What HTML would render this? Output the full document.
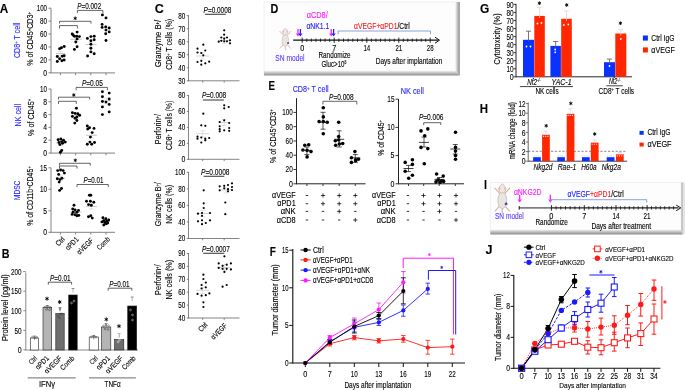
<!DOCTYPE html>
<html><head><meta charset="utf-8"><style>
html,body{margin:0;padding:0;background:#fff;width:685px;height:390px;overflow:hidden}
svg{display:block;font-family:"Liberation Sans",sans-serif;will-change:transform}
</style></head><body>
<svg width="685" height="390" viewBox="0 0 685 390">
<text x="-0.30" y="12.65" font-size="13.53" stroke="#000" stroke-width="0.12" textLength="8.50" lengthAdjust="spacingAndGlyphs" font-weight="bold">A</text>
<line x1="51.00" y1="8.20" x2="51.00" y2="72.90" stroke="#828282" stroke-width="1" />
<line x1="50.50" y1="72.90" x2="115.00" y2="72.90" stroke="#828282" stroke-width="1" />
<line x1="48.50" y1="8.20" x2="51.00" y2="8.20" stroke="#828282" stroke-width="1" />
<text x="36.80" y="11.23" font-size="8.80" stroke="#000" stroke-width="0.12" textLength="10.20" lengthAdjust="spacingAndGlyphs">100</text>
<line x1="48.50" y1="21.12" x2="51.00" y2="21.12" stroke="#828282" stroke-width="1" />
<text x="40.00" y="24.15" font-size="8.80" stroke="#000" stroke-width="0.12" textLength="7.00" lengthAdjust="spacingAndGlyphs">80</text>
<line x1="48.50" y1="34.04" x2="51.00" y2="34.04" stroke="#828282" stroke-width="1" />
<text x="40.00" y="37.07" font-size="8.80" stroke="#000" stroke-width="0.12" textLength="7.00" lengthAdjust="spacingAndGlyphs">60</text>
<line x1="48.50" y1="46.96" x2="51.00" y2="46.96" stroke="#828282" stroke-width="1" />
<text x="40.00" y="49.99" font-size="8.80" stroke="#000" stroke-width="0.12" textLength="7.00" lengthAdjust="spacingAndGlyphs">40</text>
<line x1="48.50" y1="59.88" x2="51.00" y2="59.88" stroke="#828282" stroke-width="1" />
<text x="40.00" y="62.91" font-size="8.80" stroke="#000" stroke-width="0.12" textLength="7.00" lengthAdjust="spacingAndGlyphs">20</text>
<line x1="48.50" y1="72.80" x2="51.00" y2="72.80" stroke="#828282" stroke-width="1" />
<text x="43.20" y="75.83" font-size="8.80" stroke="#000" stroke-width="0.12" textLength="3.80" lengthAdjust="spacingAndGlyphs">0</text>
<line x1="60.40" y1="72.90" x2="60.40" y2="75.20" stroke="#828282" stroke-width="1" />
<line x1="75.60" y1="72.90" x2="75.60" y2="75.20" stroke="#828282" stroke-width="1" />
<line x1="90.80" y1="72.90" x2="90.80" y2="75.20" stroke="#828282" stroke-width="1" />
<line x1="106.00" y1="72.90" x2="106.00" y2="75.20" stroke="#828282" stroke-width="1" />
<text x="20.23" y="58.00" font-size="8.80" fill="#2828ff" stroke="#2828ff" stroke-width="0.12" textLength="35.30" lengthAdjust="spacingAndGlyphs" transform="rotate(-90 20.23 58.00)">CD8<tspan font-size="5" dy="-2.5">+</tspan><tspan dy="2.5"> T cell</tspan></text>
<text x="33.13" y="65.80" font-size="8.80" stroke="#000" stroke-width="0.12" textLength="53.70" lengthAdjust="spacingAndGlyphs" transform="rotate(-90 33.13 65.80)">% of CD45<tspan font-size="5" dy="-2.5">+</tspan><tspan dy="2.5">CD3</tspan><tspan font-size="5" dy="-2.5">+</tspan></text>
<line x1="56.00" y1="53.50" x2="65.00" y2="53.50" stroke="#b8b8b8" stroke-width="0.8" />
<line x1="58.00" y1="51.50" x2="63.00" y2="51.50" stroke="#cfcfcf" stroke-width="0.6" />
<line x1="58.00" y1="55.50" x2="63.00" y2="55.50" stroke="#cfcfcf" stroke-width="0.6" />
<line x1="60.50" y1="51.50" x2="60.50" y2="55.50" stroke="#cfcfcf" stroke-width="0.6" />
<line x1="70.20" y1="39.30" x2="81.80" y2="39.30" stroke="#b8b8b8" stroke-width="0.8" />
<line x1="73.50" y1="37.00" x2="78.50" y2="37.00" stroke="#cfcfcf" stroke-width="0.6" />
<line x1="73.50" y1="41.60" x2="78.50" y2="41.60" stroke="#cfcfcf" stroke-width="0.6" />
<line x1="76.00" y1="37.00" x2="76.00" y2="41.60" stroke="#cfcfcf" stroke-width="0.6" />
<line x1="85.40" y1="44.60" x2="96.60" y2="44.60" stroke="#b8b8b8" stroke-width="0.8" />
<line x1="88.50" y1="42.20" x2="93.50" y2="42.20" stroke="#cfcfcf" stroke-width="0.6" />
<line x1="88.50" y1="47.30" x2="93.50" y2="47.30" stroke="#cfcfcf" stroke-width="0.6" />
<line x1="91.00" y1="42.20" x2="91.00" y2="47.30" stroke="#cfcfcf" stroke-width="0.6" />
<line x1="101.80" y1="28.00" x2="110.80" y2="28.00" stroke="#b8b8b8" stroke-width="0.8" />
<line x1="103.80" y1="26.00" x2="108.80" y2="26.00" stroke="#cfcfcf" stroke-width="0.6" />
<line x1="103.80" y1="30.00" x2="108.80" y2="30.00" stroke="#cfcfcf" stroke-width="0.6" />
<line x1="106.30" y1="26.00" x2="106.30" y2="30.00" stroke="#cfcfcf" stroke-width="0.6" />
<circle cx="59.60" cy="48.80" r="1.45" fill="#000" stroke="none" stroke-width="1" />
<circle cx="61.50" cy="47.70" r="1.45" fill="#000" stroke="none" stroke-width="1" />
<circle cx="64.20" cy="46.50" r="1.45" fill="#000" stroke="none" stroke-width="1" />
<circle cx="57.30" cy="56.50" r="1.45" fill="#000" stroke="none" stroke-width="1" />
<circle cx="62.30" cy="56.20" r="1.45" fill="#000" stroke="none" stroke-width="1" />
<circle cx="64.20" cy="55.80" r="1.45" fill="#000" stroke="none" stroke-width="1" />
<circle cx="59.60" cy="58.80" r="1.45" fill="#000" stroke="none" stroke-width="1" />
<circle cx="57.30" cy="61.50" r="1.45" fill="#000" stroke="none" stroke-width="1" />
<circle cx="61.90" cy="60.80" r="1.45" fill="#000" stroke="none" stroke-width="1" />
<circle cx="64.20" cy="60.00" r="1.45" fill="#000" stroke="none" stroke-width="1" />
<circle cx="77.10" cy="32.10" r="1.45" fill="#000" stroke="none" stroke-width="1" />
<circle cx="72.20" cy="33.90" r="1.45" fill="#000" stroke="none" stroke-width="1" />
<circle cx="74.40" cy="36.20" r="1.45" fill="#000" stroke="none" stroke-width="1" />
<circle cx="76.70" cy="36.20" r="1.45" fill="#000" stroke="none" stroke-width="1" />
<circle cx="79.40" cy="36.60" r="1.45" fill="#000" stroke="none" stroke-width="1" />
<circle cx="77.10" cy="38.90" r="1.45" fill="#000" stroke="none" stroke-width="1" />
<circle cx="75.80" cy="42.00" r="1.45" fill="#000" stroke="none" stroke-width="1" />
<circle cx="77.10" cy="46.80" r="1.45" fill="#000" stroke="none" stroke-width="1" />
<circle cx="74.40" cy="49.40" r="1.45" fill="#000" stroke="none" stroke-width="1" />
<circle cx="73.00" cy="35.00" r="1.45" fill="#000" stroke="none" stroke-width="1" />
<circle cx="87.40" cy="38.40" r="1.45" fill="#000" stroke="none" stroke-width="1" />
<circle cx="90.90" cy="36.60" r="1.45" fill="#000" stroke="none" stroke-width="1" />
<circle cx="94.20" cy="36.20" r="1.45" fill="#000" stroke="none" stroke-width="1" />
<circle cx="94.20" cy="39.70" r="1.45" fill="#000" stroke="none" stroke-width="1" />
<circle cx="90.90" cy="40.80" r="1.45" fill="#000" stroke="none" stroke-width="1" />
<circle cx="90.90" cy="44.20" r="1.45" fill="#000" stroke="none" stroke-width="1" />
<circle cx="90.90" cy="48.30" r="1.45" fill="#000" stroke="none" stroke-width="1" />
<circle cx="90.90" cy="51.90" r="1.45" fill="#000" stroke="none" stroke-width="1" />
<circle cx="94.20" cy="53.70" r="1.45" fill="#000" stroke="none" stroke-width="1" />
<circle cx="87.60" cy="56.00" r="1.45" fill="#000" stroke="none" stroke-width="1" />
<circle cx="102.40" cy="14.90" r="1.45" fill="#000" stroke="none" stroke-width="1" />
<circle cx="106.00" cy="17.90" r="1.45" fill="#000" stroke="none" stroke-width="1" />
<circle cx="102.10" cy="24.40" r="1.45" fill="#000" stroke="none" stroke-width="1" />
<circle cx="102.10" cy="27.40" r="1.45" fill="#000" stroke="none" stroke-width="1" />
<circle cx="105.70" cy="26.90" r="1.45" fill="#000" stroke="none" stroke-width="1" />
<circle cx="109.20" cy="28.00" r="1.45" fill="#000" stroke="none" stroke-width="1" />
<circle cx="106.00" cy="30.10" r="1.45" fill="#000" stroke="none" stroke-width="1" />
<circle cx="109.20" cy="31.90" r="1.45" fill="#000" stroke="none" stroke-width="1" />
<circle cx="105.70" cy="33.70" r="1.45" fill="#000" stroke="none" stroke-width="1" />
<circle cx="106.00" cy="40.50" r="1.45" fill="#000" stroke="none" stroke-width="1" />
<path d="M59.50 23.60 L59.50 21.30 L91.00 21.30 L91.00 23.60" stroke="#333" stroke-width="0.75" fill="none" />
<path d="M59.50 28.50 L59.50 25.60 L77.40 25.60 L77.40 28.50" stroke="#333" stroke-width="0.75" fill="none" />
<path d="M75.20 16.55 L75.20 20.05 M76.72 17.43 L73.68 19.18 M76.72 19.18 L73.68 17.43 " stroke="#000" stroke-width="0.9" fill="none" />
<path d="M77.40 13.20 L77.40 10.40 L102.90 10.40 L102.90 13.20" stroke="#333" stroke-width="0.75" fill="none" />
<text x="77.30" y="8.74" font-size="8.25" stroke="#000" stroke-width="0.12" textLength="23.90" lengthAdjust="spacingAndGlyphs"><tspan font-style="italic">P</tspan>=0.002</text>
<line x1="51.00" y1="89.00" x2="51.00" y2="153.10" stroke="#828282" stroke-width="1" />
<line x1="50.50" y1="153.10" x2="115.00" y2="153.10" stroke="#828282" stroke-width="1" />
<line x1="48.50" y1="89.00" x2="51.00" y2="89.00" stroke="#828282" stroke-width="1" />
<text x="40.00" y="92.03" font-size="8.80" stroke="#000" stroke-width="0.12" textLength="7.00" lengthAdjust="spacingAndGlyphs">10</text>
<line x1="48.50" y1="101.80" x2="51.00" y2="101.80" stroke="#828282" stroke-width="1" />
<text x="43.20" y="104.83" font-size="8.80" stroke="#000" stroke-width="0.12" textLength="3.80" lengthAdjust="spacingAndGlyphs">8</text>
<line x1="48.50" y1="114.60" x2="51.00" y2="114.60" stroke="#828282" stroke-width="1" />
<text x="43.20" y="117.63" font-size="8.80" stroke="#000" stroke-width="0.12" textLength="3.80" lengthAdjust="spacingAndGlyphs">6</text>
<line x1="48.50" y1="127.40" x2="51.00" y2="127.40" stroke="#828282" stroke-width="1" />
<text x="43.20" y="130.43" font-size="8.80" stroke="#000" stroke-width="0.12" textLength="3.80" lengthAdjust="spacingAndGlyphs">4</text>
<line x1="48.50" y1="140.20" x2="51.00" y2="140.20" stroke="#828282" stroke-width="1" />
<text x="43.20" y="143.23" font-size="8.80" stroke="#000" stroke-width="0.12" textLength="3.80" lengthAdjust="spacingAndGlyphs">2</text>
<line x1="48.50" y1="153.00" x2="51.00" y2="153.00" stroke="#828282" stroke-width="1" />
<text x="43.20" y="156.03" font-size="8.80" stroke="#000" stroke-width="0.12" textLength="3.80" lengthAdjust="spacingAndGlyphs">0</text>
<line x1="60.40" y1="153.10" x2="60.40" y2="155.40" stroke="#828282" stroke-width="1" />
<line x1="75.60" y1="153.10" x2="75.60" y2="155.40" stroke="#828282" stroke-width="1" />
<line x1="90.80" y1="153.10" x2="90.80" y2="155.40" stroke="#828282" stroke-width="1" />
<line x1="106.00" y1="153.10" x2="106.00" y2="155.40" stroke="#828282" stroke-width="1" />
<text x="20.63" y="126.40" font-size="8.80" fill="#2828ff" stroke="#2828ff" stroke-width="0.12" textLength="22.40" lengthAdjust="spacingAndGlyphs" transform="rotate(-90 20.63 126.40)">NK cell</text>
<text x="33.63" y="136.00" font-size="8.80" stroke="#000" stroke-width="0.12" textLength="37.20" lengthAdjust="spacingAndGlyphs" transform="rotate(-90 33.63 136.00)">% of CD45<tspan font-size="5" dy="-2.5">+</tspan></text>
<line x1="56.00" y1="143.00" x2="65.00" y2="143.00" stroke="#b8b8b8" stroke-width="0.8" />
<line x1="58.00" y1="140.50" x2="63.00" y2="140.50" stroke="#cfcfcf" stroke-width="0.6" />
<line x1="58.00" y1="145.50" x2="63.00" y2="145.50" stroke="#cfcfcf" stroke-width="0.6" />
<line x1="60.50" y1="140.50" x2="60.50" y2="145.50" stroke="#cfcfcf" stroke-width="0.6" />
<line x1="70.50" y1="116.00" x2="81.50" y2="116.00" stroke="#b8b8b8" stroke-width="0.8" />
<line x1="73.50" y1="113.50" x2="78.50" y2="113.50" stroke="#cfcfcf" stroke-width="0.6" />
<line x1="73.50" y1="118.50" x2="78.50" y2="118.50" stroke="#cfcfcf" stroke-width="0.6" />
<line x1="76.00" y1="113.50" x2="76.00" y2="118.50" stroke="#cfcfcf" stroke-width="0.6" />
<line x1="85.80" y1="135.30" x2="96.80" y2="135.30" stroke="#b8b8b8" stroke-width="0.8" />
<line x1="88.80" y1="132.80" x2="93.80" y2="132.80" stroke="#cfcfcf" stroke-width="0.6" />
<line x1="88.80" y1="137.80" x2="93.80" y2="137.80" stroke="#cfcfcf" stroke-width="0.6" />
<line x1="91.30" y1="132.80" x2="91.30" y2="137.80" stroke="#cfcfcf" stroke-width="0.6" />
<line x1="101.80" y1="100.80" x2="110.80" y2="100.80" stroke="#b8b8b8" stroke-width="0.8" />
<line x1="103.80" y1="98.30" x2="108.80" y2="98.30" stroke="#cfcfcf" stroke-width="0.6" />
<line x1="103.80" y1="103.30" x2="108.80" y2="103.30" stroke="#cfcfcf" stroke-width="0.6" />
<line x1="106.30" y1="98.30" x2="106.30" y2="103.30" stroke="#cfcfcf" stroke-width="0.6" />
<circle cx="58.10" cy="139.80" r="1.45" fill="#000" stroke="none" stroke-width="1" />
<circle cx="60.80" cy="138.90" r="1.45" fill="#000" stroke="none" stroke-width="1" />
<circle cx="63.50" cy="140.30" r="1.45" fill="#000" stroke="none" stroke-width="1" />
<circle cx="65.30" cy="142.10" r="1.45" fill="#000" stroke="none" stroke-width="1" />
<circle cx="59.00" cy="142.50" r="1.45" fill="#000" stroke="none" stroke-width="1" />
<circle cx="62.60" cy="143.30" r="1.45" fill="#000" stroke="none" stroke-width="1" />
<circle cx="59.90" cy="144.60" r="1.45" fill="#000" stroke="none" stroke-width="1" />
<circle cx="61.70" cy="141.60" r="1.45" fill="#000" stroke="none" stroke-width="1" />
<circle cx="61.70" cy="150.50" r="1.45" fill="#000" stroke="none" stroke-width="1" />
<circle cx="60.40" cy="152.30" r="1.45" fill="#000" stroke="none" stroke-width="1" />
<circle cx="76.40" cy="108.30" r="1.45" fill="#000" stroke="none" stroke-width="1" />
<circle cx="72.40" cy="112.80" r="1.45" fill="#000" stroke="none" stroke-width="1" />
<circle cx="75.10" cy="113.40" r="1.45" fill="#000" stroke="none" stroke-width="1" />
<circle cx="77.80" cy="113.70" r="1.45" fill="#000" stroke="none" stroke-width="1" />
<circle cx="79.60" cy="115.20" r="1.45" fill="#000" stroke="none" stroke-width="1" />
<circle cx="72.40" cy="116.40" r="1.45" fill="#000" stroke="none" stroke-width="1" />
<circle cx="76.90" cy="117.00" r="1.45" fill="#000" stroke="none" stroke-width="1" />
<circle cx="75.10" cy="118.20" r="1.45" fill="#000" stroke="none" stroke-width="1" />
<circle cx="76.90" cy="120.50" r="1.45" fill="#000" stroke="none" stroke-width="1" />
<circle cx="74.80" cy="123.10" r="1.45" fill="#000" stroke="none" stroke-width="1" />
<circle cx="87.30" cy="125.90" r="1.45" fill="#000" stroke="none" stroke-width="1" />
<circle cx="89.50" cy="127.70" r="1.45" fill="#000" stroke="none" stroke-width="1" />
<circle cx="87.70" cy="129.00" r="1.45" fill="#000" stroke="none" stroke-width="1" />
<circle cx="94.00" cy="128.40" r="1.45" fill="#000" stroke="none" stroke-width="1" />
<circle cx="92.20" cy="132.60" r="1.45" fill="#000" stroke="none" stroke-width="1" />
<circle cx="90.40" cy="137.10" r="1.45" fill="#000" stroke="none" stroke-width="1" />
<circle cx="89.90" cy="142.10" r="1.45" fill="#000" stroke="none" stroke-width="1" />
<circle cx="87.30" cy="144.20" r="1.45" fill="#000" stroke="none" stroke-width="1" />
<circle cx="91.70" cy="144.20" r="1.45" fill="#000" stroke="none" stroke-width="1" />
<circle cx="94.50" cy="142.50" r="1.45" fill="#000" stroke="none" stroke-width="1" />
<circle cx="102.40" cy="91.80" r="1.45" fill="#000" stroke="none" stroke-width="1" />
<circle cx="109.20" cy="93.10" r="1.45" fill="#000" stroke="none" stroke-width="1" />
<circle cx="102.40" cy="96.70" r="1.45" fill="#000" stroke="none" stroke-width="1" />
<circle cx="109.20" cy="99.00" r="1.45" fill="#000" stroke="none" stroke-width="1" />
<circle cx="102.40" cy="101.50" r="1.45" fill="#000" stroke="none" stroke-width="1" />
<circle cx="106.00" cy="102.10" r="1.45" fill="#000" stroke="none" stroke-width="1" />
<circle cx="109.20" cy="104.40" r="1.45" fill="#000" stroke="none" stroke-width="1" />
<circle cx="102.40" cy="106.90" r="1.45" fill="#000" stroke="none" stroke-width="1" />
<circle cx="109.20" cy="111.90" r="1.45" fill="#000" stroke="none" stroke-width="1" />
<circle cx="102.40" cy="114.60" r="1.45" fill="#000" stroke="none" stroke-width="1" />
<path d="M58.50 99.50 L58.50 97.20 L89.60 97.20 L89.60 99.50" stroke="#333" stroke-width="0.75" fill="none" />
<path d="M58.50 103.90 L58.50 101.30 L76.30 101.30 L76.30 103.90" stroke="#333" stroke-width="0.75" fill="none" />
<path d="M73.80 93.25 L73.80 96.75 M75.32 94.12 L72.28 95.88 M75.32 95.88 L72.28 94.12 " stroke="#000" stroke-width="0.9" fill="none" />
<path d="M76.10 90.20 L76.10 87.40 L107.40 87.40 L107.40 90.20" stroke="#333" stroke-width="0.75" fill="none" />
<text x="81.90" y="85.94" font-size="8.25" stroke="#000" stroke-width="0.12" textLength="21.00" lengthAdjust="spacingAndGlyphs"><tspan font-style="italic">P</tspan>=0.05</text>
<line x1="51.00" y1="167.80" x2="51.00" y2="232.30" stroke="#828282" stroke-width="1" />
<line x1="50.50" y1="232.30" x2="115.00" y2="232.30" stroke="#828282" stroke-width="1" />
<line x1="48.50" y1="167.80" x2="51.00" y2="167.80" stroke="#828282" stroke-width="1" />
<text x="40.00" y="170.83" font-size="8.80" stroke="#000" stroke-width="0.12" textLength="7.00" lengthAdjust="spacingAndGlyphs">15</text>
<line x1="48.50" y1="189.30" x2="51.00" y2="189.30" stroke="#828282" stroke-width="1" />
<text x="40.00" y="192.33" font-size="8.80" stroke="#000" stroke-width="0.12" textLength="7.00" lengthAdjust="spacingAndGlyphs">10</text>
<line x1="48.50" y1="210.80" x2="51.00" y2="210.80" stroke="#828282" stroke-width="1" />
<text x="43.20" y="213.83" font-size="8.80" stroke="#000" stroke-width="0.12" textLength="3.80" lengthAdjust="spacingAndGlyphs">5</text>
<line x1="48.50" y1="232.30" x2="51.00" y2="232.30" stroke="#828282" stroke-width="1" />
<text x="43.20" y="235.33" font-size="8.80" stroke="#000" stroke-width="0.12" textLength="3.80" lengthAdjust="spacingAndGlyphs">0</text>
<line x1="60.40" y1="232.30" x2="60.40" y2="234.60" stroke="#828282" stroke-width="1" />
<line x1="75.60" y1="232.30" x2="75.60" y2="234.60" stroke="#828282" stroke-width="1" />
<line x1="90.80" y1="232.30" x2="90.80" y2="234.60" stroke="#828282" stroke-width="1" />
<line x1="106.00" y1="232.30" x2="106.00" y2="234.60" stroke="#828282" stroke-width="1" />
<text x="20.33" y="200.00" font-size="8.80" fill="#2828ff" stroke="#2828ff" stroke-width="0.12" textLength="19.20" lengthAdjust="spacingAndGlyphs" transform="rotate(-90 20.33 200.00)">MDSC</text>
<text x="33.33" y="225.80" font-size="8.80" stroke="#000" stroke-width="0.12" textLength="59.50" lengthAdjust="spacingAndGlyphs" transform="rotate(-90 33.33 225.80)">% of CD11b<tspan font-size="5" dy="-2.5">+</tspan><tspan dy="2.5">CD45</tspan><tspan font-size="5" dy="-2.5">+</tspan></text>
<line x1="56.00" y1="178.30" x2="65.00" y2="178.30" stroke="#b8b8b8" stroke-width="0.8" />
<line x1="58.00" y1="175.80" x2="63.00" y2="175.80" stroke="#cfcfcf" stroke-width="0.6" />
<line x1="58.00" y1="180.80" x2="63.00" y2="180.80" stroke="#cfcfcf" stroke-width="0.6" />
<line x1="60.50" y1="175.80" x2="60.50" y2="180.80" stroke="#cfcfcf" stroke-width="0.6" />
<line x1="70.50" y1="212.00" x2="81.50" y2="212.00" stroke="#b8b8b8" stroke-width="0.8" />
<line x1="73.50" y1="209.50" x2="78.50" y2="209.50" stroke="#cfcfcf" stroke-width="0.6" />
<line x1="73.50" y1="214.50" x2="78.50" y2="214.50" stroke="#cfcfcf" stroke-width="0.6" />
<line x1="76.00" y1="209.50" x2="76.00" y2="214.50" stroke="#cfcfcf" stroke-width="0.6" />
<line x1="85.80" y1="206.50" x2="96.80" y2="206.50" stroke="#b8b8b8" stroke-width="0.8" />
<line x1="88.80" y1="204.00" x2="93.80" y2="204.00" stroke="#cfcfcf" stroke-width="0.6" />
<line x1="88.80" y1="209.00" x2="93.80" y2="209.00" stroke="#cfcfcf" stroke-width="0.6" />
<line x1="91.30" y1="204.00" x2="91.30" y2="209.00" stroke="#cfcfcf" stroke-width="0.6" />
<line x1="101.00" y1="221.50" x2="110.00" y2="221.50" stroke="#b8b8b8" stroke-width="0.8" />
<line x1="103.00" y1="219.00" x2="108.00" y2="219.00" stroke="#cfcfcf" stroke-width="0.6" />
<line x1="103.00" y1="224.00" x2="108.00" y2="224.00" stroke="#cfcfcf" stroke-width="0.6" />
<line x1="105.50" y1="219.00" x2="105.50" y2="224.00" stroke="#cfcfcf" stroke-width="0.6" />
<circle cx="57.70" cy="170.60" r="1.45" fill="#000" stroke="none" stroke-width="1" />
<circle cx="60.60" cy="170.00" r="1.45" fill="#000" stroke="none" stroke-width="1" />
<circle cx="63.10" cy="170.60" r="1.45" fill="#000" stroke="none" stroke-width="1" />
<circle cx="64.40" cy="173.10" r="1.45" fill="#000" stroke="none" stroke-width="1" />
<circle cx="58.70" cy="174.40" r="1.45" fill="#000" stroke="none" stroke-width="1" />
<circle cx="57.30" cy="178.80" r="1.45" fill="#000" stroke="none" stroke-width="1" />
<circle cx="60.00" cy="179.60" r="1.45" fill="#000" stroke="none" stroke-width="1" />
<circle cx="61.90" cy="178.30" r="1.45" fill="#000" stroke="none" stroke-width="1" />
<circle cx="59.20" cy="182.10" r="1.45" fill="#000" stroke="none" stroke-width="1" />
<circle cx="61.50" cy="188.50" r="1.45" fill="#000" stroke="none" stroke-width="1" />
<circle cx="59.60" cy="190.40" r="1.45" fill="#000" stroke="none" stroke-width="1" />
<circle cx="74.00" cy="205.20" r="1.45" fill="#000" stroke="none" stroke-width="1" />
<circle cx="72.70" cy="209.00" r="1.45" fill="#000" stroke="none" stroke-width="1" />
<circle cx="75.00" cy="210.00" r="1.45" fill="#000" stroke="none" stroke-width="1" />
<circle cx="78.50" cy="210.40" r="1.45" fill="#000" stroke="none" stroke-width="1" />
<circle cx="73.10" cy="212.30" r="1.45" fill="#000" stroke="none" stroke-width="1" />
<circle cx="76.90" cy="212.30" r="1.45" fill="#000" stroke="none" stroke-width="1" />
<circle cx="72.10" cy="214.40" r="1.45" fill="#000" stroke="none" stroke-width="1" />
<circle cx="75.00" cy="214.80" r="1.45" fill="#000" stroke="none" stroke-width="1" />
<circle cx="78.80" cy="215.40" r="1.45" fill="#000" stroke="none" stroke-width="1" />
<circle cx="76.90" cy="215.80" r="1.45" fill="#000" stroke="none" stroke-width="1" />
<circle cx="89.40" cy="195.20" r="1.45" fill="#000" stroke="none" stroke-width="1" />
<circle cx="90.80" cy="195.20" r="1.45" fill="#000" stroke="none" stroke-width="1" />
<circle cx="86.50" cy="201.30" r="1.45" fill="#000" stroke="none" stroke-width="1" />
<circle cx="90.40" cy="201.30" r="1.45" fill="#000" stroke="none" stroke-width="1" />
<circle cx="93.80" cy="202.30" r="1.45" fill="#000" stroke="none" stroke-width="1" />
<circle cx="88.50" cy="204.60" r="1.45" fill="#000" stroke="none" stroke-width="1" />
<circle cx="91.30" cy="205.20" r="1.45" fill="#000" stroke="none" stroke-width="1" />
<circle cx="88.50" cy="216.70" r="1.45" fill="#000" stroke="none" stroke-width="1" />
<circle cx="90.80" cy="215.80" r="1.45" fill="#000" stroke="none" stroke-width="1" />
<circle cx="92.30" cy="218.10" r="1.45" fill="#000" stroke="none" stroke-width="1" />
<circle cx="102.90" cy="217.70" r="1.45" fill="#000" stroke="none" stroke-width="1" />
<circle cx="105.80" cy="218.70" r="1.45" fill="#000" stroke="none" stroke-width="1" />
<circle cx="108.70" cy="220.00" r="1.45" fill="#000" stroke="none" stroke-width="1" />
<circle cx="103.80" cy="220.60" r="1.45" fill="#000" stroke="none" stroke-width="1" />
<circle cx="106.70" cy="221.20" r="1.45" fill="#000" stroke="none" stroke-width="1" />
<circle cx="101.90" cy="221.90" r="1.45" fill="#000" stroke="none" stroke-width="1" />
<circle cx="104.80" cy="222.50" r="1.45" fill="#000" stroke="none" stroke-width="1" />
<circle cx="107.70" cy="223.10" r="1.45" fill="#000" stroke="none" stroke-width="1" />
<circle cx="103.80" cy="225.00" r="1.45" fill="#000" stroke="none" stroke-width="1" />
<circle cx="106.20" cy="223.80" r="1.45" fill="#000" stroke="none" stroke-width="1" />
<path d="M59.50 165.60 L59.50 163.30 L90.30 163.30 L90.30 165.60" stroke="#333" stroke-width="0.75" fill="none" />
<path d="M59.50 168.60 L59.50 166.00 L77.00 166.00 L77.00 168.60" stroke="#333" stroke-width="0.75" fill="none" />
<path d="M75.30 158.55 L75.30 162.05 M76.82 159.43 L73.78 161.18 M76.82 161.18 L73.78 159.43 " stroke="#000" stroke-width="0.9" fill="none" />
<path d="M77.00 187.00 L77.00 184.50 L108.30 184.50 L108.30 187.00" stroke="#333" stroke-width="0.75" fill="none" />
<text x="83.50" y="183.24" font-size="8.25" stroke="#000" stroke-width="0.12" textLength="19.90" lengthAdjust="spacingAndGlyphs"><tspan font-style="italic">P</tspan>=0.01</text>
<text x="65.30" y="239.84" font-size="7.48" text-anchor="end" stroke="#000" stroke-width="0.12" textLength="9.53" lengthAdjust="spacingAndGlyphs" transform="rotate(-45 65.30 239.84)">Ctrl</text>
<text x="79.20" y="239.84" font-size="7.48" text-anchor="end" stroke="#000" stroke-width="0.12" textLength="15.54" lengthAdjust="spacingAndGlyphs" transform="rotate(-45 79.20 239.84)">αPD1</text>
<text x="93.80" y="241.04" font-size="7.48" text-anchor="end" stroke="#000" stroke-width="0.12" textLength="19.85" lengthAdjust="spacingAndGlyphs" transform="rotate(-45 93.80 241.04)">αVEGF</text>
<text x="110.50" y="239.84" font-size="7.48" text-anchor="end" stroke="#000" stroke-width="0.12" textLength="15.11" lengthAdjust="spacingAndGlyphs" transform="rotate(-45 110.50 239.84)">Comb</text>
<text x="1.70" y="257.55" font-size="13.53" stroke="#000" stroke-width="0.12" textLength="7.80" lengthAdjust="spacingAndGlyphs" font-weight="bold">B</text>
<line x1="25.80" y1="272.50" x2="25.80" y2="350.20" stroke="#8a8a8a" stroke-width="1" />
<line x1="25.30" y1="350.00" x2="138.00" y2="350.00" stroke="#8a8a8a" stroke-width="1" />
<line x1="23.30" y1="271.60" x2="25.80" y2="271.60" stroke="#8a8a8a" stroke-width="1" />
<text x="11.10" y="274.82" font-size="9.35" stroke="#000" stroke-width="0.12" textLength="10.50" lengthAdjust="spacingAndGlyphs">200</text>
<line x1="23.30" y1="291.17" x2="25.80" y2="291.17" stroke="#8a8a8a" stroke-width="1" />
<text x="11.10" y="294.39" font-size="9.35" stroke="#000" stroke-width="0.12" textLength="10.50" lengthAdjust="spacingAndGlyphs">150</text>
<line x1="23.30" y1="310.75" x2="25.80" y2="310.75" stroke="#8a8a8a" stroke-width="1" />
<text x="11.10" y="313.97" font-size="9.35" stroke="#000" stroke-width="0.12" textLength="10.50" lengthAdjust="spacingAndGlyphs">100</text>
<line x1="23.30" y1="330.32" x2="25.80" y2="330.32" stroke="#8a8a8a" stroke-width="1" />
<text x="14.40" y="333.54" font-size="9.35" stroke="#000" stroke-width="0.12" textLength="7.20" lengthAdjust="spacingAndGlyphs">50</text>
<line x1="23.30" y1="349.90" x2="25.80" y2="349.90" stroke="#8a8a8a" stroke-width="1" />
<text x="17.70" y="353.12" font-size="9.35" stroke="#000" stroke-width="0.12" textLength="3.90" lengthAdjust="spacingAndGlyphs">0</text>
<text x="8.01" y="340.90" font-size="9.90" stroke="#000" stroke-width="0.12" textLength="66.70" lengthAdjust="spacingAndGlyphs" transform="rotate(-90 8.01 340.90)">Protein level (pg/ml)</text>
<rect x="30.30" y="338.00" width="8.40" height="12.00" fill="#fff" stroke="#222" stroke-width="0.6" />
<rect x="43.00" y="307.50" width="8.70" height="42.50" fill="#b4b4b4" stroke="#222" stroke-width="0.6" />
<rect x="55.80" y="313.50" width="8.40" height="36.50" fill="#6e6e6e" stroke="#222" stroke-width="0.6" />
<rect x="68.70" y="295.00" width="8.50" height="55.00" fill="#000" stroke="#222" stroke-width="0.6" />
<rect x="89.20" y="337.00" width="9.10" height="13.00" fill="#fff" stroke="#222" stroke-width="0.6" />
<rect x="101.50" y="327.00" width="9.30" height="23.00" fill="#b4b4b4" stroke="#222" stroke-width="0.6" />
<rect x="114.60" y="339.60" width="9.20" height="10.40" fill="#6e6e6e" stroke="#222" stroke-width="0.6" />
<rect x="127.70" y="306.00" width="9.00" height="44.00" fill="#000" stroke="#222" stroke-width="0.6" />
<line x1="34.50" y1="336.00" x2="34.50" y2="340.00" stroke="#555" stroke-width="0.6" />
<line x1="33.00" y1="336.00" x2="36.00" y2="336.00" stroke="#555" stroke-width="0.6" />
<line x1="47.30" y1="305.50" x2="47.30" y2="309.50" stroke="#555" stroke-width="0.6" />
<line x1="45.80" y1="305.50" x2="48.80" y2="305.50" stroke="#555" stroke-width="0.6" />
<line x1="60.00" y1="307.50" x2="60.00" y2="311.50" stroke="#555" stroke-width="0.6" />
<line x1="58.50" y1="307.50" x2="61.50" y2="307.50" stroke="#555" stroke-width="0.6" />
<line x1="73.00" y1="288.50" x2="73.00" y2="292.50" stroke="#555" stroke-width="0.6" />
<line x1="71.50" y1="288.50" x2="74.50" y2="288.50" stroke="#555" stroke-width="0.6" />
<line x1="93.70" y1="335.50" x2="93.70" y2="339.50" stroke="#555" stroke-width="0.6" />
<line x1="92.20" y1="335.50" x2="95.20" y2="335.50" stroke="#555" stroke-width="0.6" />
<line x1="106.10" y1="323.50" x2="106.10" y2="327.50" stroke="#555" stroke-width="0.6" />
<line x1="104.60" y1="323.50" x2="107.60" y2="323.50" stroke="#555" stroke-width="0.6" />
<line x1="119.20" y1="333.50" x2="119.20" y2="337.50" stroke="#555" stroke-width="0.6" />
<line x1="117.70" y1="333.50" x2="120.70" y2="333.50" stroke="#555" stroke-width="0.6" />
<line x1="132.20" y1="297.00" x2="132.20" y2="301.00" stroke="#555" stroke-width="0.6" />
<line x1="130.70" y1="297.00" x2="133.70" y2="297.00" stroke="#555" stroke-width="0.6" />
<circle cx="32.50" cy="337.20" r="0.90" fill="none" stroke="#333" stroke-width="0.45" />
<circle cx="35.00" cy="337.80" r="0.90" fill="none" stroke="#333" stroke-width="0.45" />
<circle cx="36.80" cy="337.40" r="0.90" fill="none" stroke="#333" stroke-width="0.45" />
<circle cx="45.00" cy="307.00" r="0.90" fill="none" stroke="#333" stroke-width="0.45" />
<circle cx="47.50" cy="306.50" r="0.90" fill="none" stroke="#333" stroke-width="0.45" />
<circle cx="50.00" cy="307.20" r="0.90" fill="none" stroke="#333" stroke-width="0.45" />
<circle cx="46.50" cy="309.50" r="0.90" fill="none" stroke="#333" stroke-width="0.45" />
<circle cx="49.50" cy="309.80" r="0.90" fill="none" stroke="#333" stroke-width="0.45" />
<circle cx="58.00" cy="316.00" r="0.90" fill="none" stroke="#333" stroke-width="0.45" />
<circle cx="60.00" cy="314.00" r="0.90" fill="none" stroke="#333" stroke-width="0.45" />
<circle cx="62.00" cy="313.80" r="0.90" fill="none" stroke="#333" stroke-width="0.45" />
<circle cx="60.00" cy="309.00" r="0.90" fill="none" stroke="#333" stroke-width="0.45" />
<circle cx="59.50" cy="318.00" r="0.90" fill="none" stroke="#333" stroke-width="0.45" />
<circle cx="71.00" cy="292.00" r="0.90" fill="none" stroke="#fff" stroke-width="0.45" />
<circle cx="73.00" cy="290.50" r="0.90" fill="none" stroke="#fff" stroke-width="0.45" />
<circle cx="75.00" cy="291.50" r="0.90" fill="none" stroke="#fff" stroke-width="0.45" />
<circle cx="74.00" cy="301.00" r="0.90" fill="none" stroke="#fff" stroke-width="0.45" />
<circle cx="71.50" cy="303.00" r="0.90" fill="none" stroke="#fff" stroke-width="0.45" />
<circle cx="91.50" cy="337.00" r="0.90" fill="none" stroke="#333" stroke-width="0.45" />
<circle cx="94.00" cy="336.50" r="0.90" fill="none" stroke="#333" stroke-width="0.45" />
<circle cx="96.00" cy="337.30" r="0.90" fill="none" stroke="#333" stroke-width="0.45" />
<circle cx="103.50" cy="326.00" r="0.90" fill="none" stroke="#333" stroke-width="0.45" />
<circle cx="106.00" cy="325.00" r="0.90" fill="none" stroke="#333" stroke-width="0.45" />
<circle cx="108.50" cy="325.80" r="0.90" fill="none" stroke="#333" stroke-width="0.45" />
<circle cx="105.00" cy="329.00" r="0.90" fill="none" stroke="#333" stroke-width="0.45" />
<circle cx="108.00" cy="329.50" r="0.90" fill="none" stroke="#333" stroke-width="0.45" />
<circle cx="117.00" cy="335.50" r="0.90" fill="none" stroke="#fff" stroke-width="0.45" />
<circle cx="119.50" cy="333.00" r="0.90" fill="none" stroke="#fff" stroke-width="0.45" />
<circle cx="121.50" cy="336.00" r="0.90" fill="none" stroke="#fff" stroke-width="0.45" />
<circle cx="119.50" cy="340.00" r="0.90" fill="none" stroke="#fff" stroke-width="0.45" />
<circle cx="118.00" cy="342.00" r="0.90" fill="none" stroke="#fff" stroke-width="0.45" />
<circle cx="132.20" cy="293.80" r="0.90" fill="none" stroke="#fff" stroke-width="0.45" />
<circle cx="132.20" cy="299.50" r="0.90" fill="none" stroke="#fff" stroke-width="0.45" />
<circle cx="130.50" cy="310.00" r="0.90" fill="none" stroke="#fff" stroke-width="0.45" />
<circle cx="132.50" cy="315.00" r="0.90" fill="none" stroke="#fff" stroke-width="0.45" />
<circle cx="132.50" cy="320.00" r="0.90" fill="none" stroke="#fff" stroke-width="0.45" />
<path d="M47.00 296.70 L47.00 300.70 M48.73 297.70 L45.27 299.70 M48.73 299.70 L45.27 297.70 " stroke="#000" stroke-width="0.9" fill="none" />
<path d="M59.70 300.00 L59.70 304.00 M61.43 301.00 L57.97 303.00 M61.43 303.00 L57.97 301.00 " stroke="#000" stroke-width="0.9" fill="none" />
<path d="M106.30 317.40 L106.30 321.40 M108.03 318.40 L104.57 320.40 M108.03 320.40 L104.57 318.40 " stroke="#000" stroke-width="0.9" fill="none" />
<path d="M119.00 324.20 L119.00 328.20 M120.73 325.20 L117.27 327.20 M120.73 327.20 L117.27 325.20 " stroke="#000" stroke-width="0.9" fill="none" />
<path d="M48.30 284.60 L48.30 282.20 L71.60 282.20 L71.60 284.60" stroke="#333" stroke-width="0.8" fill="none" />
<text x="50.00" y="280.74" font-size="8.25" stroke="#000" stroke-width="0.12" textLength="20.60" lengthAdjust="spacingAndGlyphs"><tspan font-style="italic">P</tspan>=0.01</text>
<path d="M108.10 290.60 L108.10 288.20 L131.80 288.20 L131.80 290.60" stroke="#333" stroke-width="0.8" fill="none" />
<text x="109.30" y="286.84" font-size="8.25" stroke="#000" stroke-width="0.12" textLength="20.30" lengthAdjust="spacingAndGlyphs"><tspan font-style="italic">P</tspan>=0.01</text>
<text x="37.60" y="358.83" font-size="7.26" text-anchor="end" stroke="#000" stroke-width="0.12" textLength="8.55" lengthAdjust="spacingAndGlyphs" transform="rotate(-45 37.60 358.83)">Ctrl</text>
<text x="49.50" y="358.83" font-size="7.26" text-anchor="end" stroke="#000" stroke-width="0.12" textLength="15.90" lengthAdjust="spacingAndGlyphs" transform="rotate(-45 49.50 358.83)">αPD1</text>
<text x="62.30" y="358.83" font-size="7.26" text-anchor="end" stroke="#000" stroke-width="0.12" textLength="21.49" lengthAdjust="spacingAndGlyphs" transform="rotate(-45 62.30 358.83)">αVEGF</text>
<text x="75.00" y="358.83" font-size="7.26" text-anchor="end" stroke="#000" stroke-width="0.12" textLength="16.89" lengthAdjust="spacingAndGlyphs" transform="rotate(-45 75.00 358.83)">Comb</text>
<text x="98.40" y="358.83" font-size="7.26" text-anchor="end" stroke="#000" stroke-width="0.12" textLength="8.55" lengthAdjust="spacingAndGlyphs" transform="rotate(-45 98.40 358.83)">Ctrl</text>
<text x="110.60" y="358.83" font-size="7.26" text-anchor="end" stroke="#000" stroke-width="0.12" textLength="16.25" lengthAdjust="spacingAndGlyphs" transform="rotate(-45 110.60 358.83)">αPD1</text>
<text x="123.40" y="358.83" font-size="7.26" text-anchor="end" stroke="#000" stroke-width="0.12" textLength="21.41" lengthAdjust="spacingAndGlyphs" transform="rotate(-45 123.40 358.83)">αVEGF</text>
<text x="136.20" y="358.83" font-size="7.26" text-anchor="end" stroke="#000" stroke-width="0.12" textLength="16.25" lengthAdjust="spacingAndGlyphs" transform="rotate(-45 136.20 358.83)">Comb</text>
<line x1="27.70" y1="377.80" x2="75.70" y2="377.80" stroke="#8a8a8a" stroke-width="1.3" />
<line x1="89.00" y1="377.80" x2="135.90" y2="377.80" stroke="#8a8a8a" stroke-width="1.3" />
<text x="38.90" y="387.23" font-size="8.80" stroke="#000" stroke-width="0.12" textLength="16.10" lengthAdjust="spacingAndGlyphs">IFNγ</text>
<text x="104.60" y="387.23" font-size="8.80" stroke="#000" stroke-width="0.12" textLength="16.10" lengthAdjust="spacingAndGlyphs">TNFα</text>
<text x="154.80" y="12.70" font-size="13.53" stroke="#000" stroke-width="0.12" textLength="9.10" lengthAdjust="spacingAndGlyphs" font-weight="bold">C</text>
<line x1="188.50" y1="15.20" x2="188.50" y2="81.10" stroke="#666" stroke-width="0.8" />
<line x1="188.20" y1="80.80" x2="239.50" y2="80.80" stroke="#666" stroke-width="0.8" />
<line x1="186.80" y1="80.80" x2="188.50" y2="80.80" stroke="#666" stroke-width="0.8" />
<text x="178.20" y="83.64" font-size="8.25" stroke="#000" stroke-width="0.12" textLength="7.10" lengthAdjust="spacingAndGlyphs">30</text>
<line x1="186.80" y1="67.78" x2="188.50" y2="67.78" stroke="#666" stroke-width="0.8" />
<text x="178.20" y="70.62" font-size="8.25" stroke="#000" stroke-width="0.12" textLength="7.10" lengthAdjust="spacingAndGlyphs">40</text>
<line x1="186.80" y1="54.76" x2="188.50" y2="54.76" stroke="#666" stroke-width="0.8" />
<text x="178.20" y="57.60" font-size="8.25" stroke="#000" stroke-width="0.12" textLength="7.10" lengthAdjust="spacingAndGlyphs">50</text>
<line x1="186.80" y1="41.74" x2="188.50" y2="41.74" stroke="#666" stroke-width="0.8" />
<text x="178.20" y="44.58" font-size="8.25" stroke="#000" stroke-width="0.12" textLength="7.10" lengthAdjust="spacingAndGlyphs">60</text>
<line x1="186.80" y1="28.72" x2="188.50" y2="28.72" stroke="#666" stroke-width="0.8" />
<text x="178.20" y="31.56" font-size="8.25" stroke="#000" stroke-width="0.12" textLength="7.10" lengthAdjust="spacingAndGlyphs">70</text>
<line x1="186.80" y1="15.70" x2="188.50" y2="15.70" stroke="#666" stroke-width="0.8" />
<text x="178.20" y="18.54" font-size="8.25" stroke="#000" stroke-width="0.12" textLength="7.10" lengthAdjust="spacingAndGlyphs">80</text>
<line x1="202.70" y1="80.80" x2="202.70" y2="82.60" stroke="#666" stroke-width="0.8" />
<line x1="224.20" y1="80.80" x2="224.20" y2="82.60" stroke="#666" stroke-width="0.8" />
<text x="161.11" y="67.30" font-size="9.90" stroke="#000" stroke-width="0.12" textLength="47.50" lengthAdjust="spacingAndGlyphs" transform="rotate(-90 161.11 67.30)">Granzyme B<tspan font-size="5.5" dy="-2.5">+</tspan><tspan dy="2.5">/</tspan></text>
<text x="172.21" y="69.80" font-size="9.90" stroke="#000" stroke-width="0.12" textLength="51.00" lengthAdjust="spacingAndGlyphs" transform="rotate(-90 172.21 69.80)">CD8<tspan font-size="5.5" dy="-2.5">+</tspan><tspan dy="2.5"> T cells (%)</tspan></text>
<text x="203.60" y="12.74" font-size="8.25" stroke="#000" stroke-width="0.12" textLength="27.70" lengthAdjust="spacingAndGlyphs"><tspan font-style="italic">P</tspan>=0.0008</text>
<line x1="204.90" y1="14.30" x2="225.80" y2="14.30" stroke="#444" stroke-width="1.1" />
<line x1="196.20" y1="56.00" x2="209.20" y2="56.00" stroke="#c4c4c4" stroke-width="0.7" />
<line x1="200.20" y1="53.00" x2="205.20" y2="53.00" stroke="#d4d4d4" stroke-width="0.6" />
<line x1="200.20" y1="59.00" x2="205.20" y2="59.00" stroke="#d4d4d4" stroke-width="0.6" />
<line x1="202.70" y1="53.00" x2="202.70" y2="59.00" stroke="#d4d4d4" stroke-width="0.6" />
<line x1="218.70" y1="40.50" x2="229.70" y2="40.50" stroke="#c4c4c4" stroke-width="0.7" />
<line x1="221.70" y1="37.50" x2="226.70" y2="37.50" stroke="#d4d4d4" stroke-width="0.6" />
<line x1="221.70" y1="43.50" x2="226.70" y2="43.50" stroke="#d4d4d4" stroke-width="0.6" />
<line x1="224.20" y1="37.50" x2="224.20" y2="43.50" stroke="#d4d4d4" stroke-width="0.6" />
<circle cx="203.30" cy="44.70" r="1.10" fill="#000" stroke="none" stroke-width="1" />
<circle cx="197.50" cy="48.70" r="1.10" fill="#000" stroke="none" stroke-width="1" />
<circle cx="205.30" cy="50.50" r="1.10" fill="#000" stroke="none" stroke-width="1" />
<circle cx="197.50" cy="52.50" r="1.10" fill="#000" stroke="none" stroke-width="1" />
<circle cx="201.30" cy="53.00" r="1.10" fill="#000" stroke="none" stroke-width="1" />
<circle cx="203.30" cy="55.30" r="1.10" fill="#000" stroke="none" stroke-width="1" />
<circle cx="201.30" cy="60.80" r="1.10" fill="#000" stroke="none" stroke-width="1" />
<circle cx="197.50" cy="62.00" r="1.10" fill="#000" stroke="none" stroke-width="1" />
<circle cx="205.30" cy="63.30" r="1.10" fill="#000" stroke="none" stroke-width="1" />
<circle cx="209.20" cy="61.70" r="1.10" fill="#000" stroke="none" stroke-width="1" />
<circle cx="201.30" cy="64.70" r="1.10" fill="#000" stroke="none" stroke-width="1" />
<circle cx="224.20" cy="30.30" r="1.10" fill="#000" stroke="none" stroke-width="1" />
<circle cx="224.20" cy="34.70" r="1.10" fill="#000" stroke="none" stroke-width="1" />
<circle cx="221.30" cy="37.50" r="1.10" fill="#000" stroke="none" stroke-width="1" />
<circle cx="227.00" cy="37.50" r="1.10" fill="#000" stroke="none" stroke-width="1" />
<circle cx="224.20" cy="38.70" r="1.10" fill="#000" stroke="none" stroke-width="1" />
<circle cx="218.70" cy="41.70" r="1.10" fill="#000" stroke="none" stroke-width="1" />
<circle cx="221.30" cy="40.80" r="1.10" fill="#000" stroke="none" stroke-width="1" />
<circle cx="224.20" cy="41.30" r="1.10" fill="#000" stroke="none" stroke-width="1" />
<circle cx="227.00" cy="41.30" r="1.10" fill="#000" stroke="none" stroke-width="1" />
<circle cx="230.00" cy="40.30" r="1.10" fill="#000" stroke="none" stroke-width="1" />
<circle cx="230.00" cy="43.30" r="1.10" fill="#000" stroke="none" stroke-width="1" />
<line x1="188.50" y1="94.90" x2="188.50" y2="159.60" stroke="#666" stroke-width="0.8" />
<line x1="188.20" y1="159.30" x2="239.50" y2="159.30" stroke="#666" stroke-width="0.8" />
<line x1="186.80" y1="159.30" x2="188.50" y2="159.30" stroke="#666" stroke-width="0.8" />
<text x="181.45" y="162.14" font-size="8.25" stroke="#000" stroke-width="0.12" textLength="3.85" lengthAdjust="spacingAndGlyphs">0</text>
<line x1="186.80" y1="143.33" x2="188.50" y2="143.33" stroke="#666" stroke-width="0.8" />
<text x="178.20" y="146.16" font-size="8.25" stroke="#000" stroke-width="0.12" textLength="7.10" lengthAdjust="spacingAndGlyphs">20</text>
<line x1="186.80" y1="127.35" x2="188.50" y2="127.35" stroke="#666" stroke-width="0.8" />
<text x="178.20" y="130.19" font-size="8.25" stroke="#000" stroke-width="0.12" textLength="7.10" lengthAdjust="spacingAndGlyphs">40</text>
<line x1="186.80" y1="111.38" x2="188.50" y2="111.38" stroke="#666" stroke-width="0.8" />
<text x="178.20" y="114.21" font-size="8.25" stroke="#000" stroke-width="0.12" textLength="7.10" lengthAdjust="spacingAndGlyphs">60</text>
<line x1="186.80" y1="95.40" x2="188.50" y2="95.40" stroke="#666" stroke-width="0.8" />
<text x="178.20" y="98.24" font-size="8.25" stroke="#000" stroke-width="0.12" textLength="7.10" lengthAdjust="spacingAndGlyphs">80</text>
<line x1="202.70" y1="159.30" x2="202.70" y2="161.10" stroke="#666" stroke-width="0.8" />
<line x1="224.20" y1="159.30" x2="224.20" y2="161.10" stroke="#666" stroke-width="0.8" />
<text x="161.11" y="144.20" font-size="9.90" stroke="#000" stroke-width="0.12" textLength="30.20" lengthAdjust="spacingAndGlyphs" transform="rotate(-90 161.11 144.20)">Perforin<tspan font-size="5.5" dy="-2.5">+</tspan><tspan dy="2.5">/</tspan></text>
<text x="172.21" y="150.00" font-size="9.90" stroke="#000" stroke-width="0.12" textLength="49.40" lengthAdjust="spacingAndGlyphs" transform="rotate(-90 172.21 150.00)">CD8<tspan font-size="5.5" dy="-2.5">+</tspan><tspan dy="2.5"> T cells (%)</tspan></text>
<text x="201.90" y="98.34" font-size="8.25" stroke="#000" stroke-width="0.12" textLength="24.30" lengthAdjust="spacingAndGlyphs"><tspan font-style="italic">P</tspan>=0.008</text>
<line x1="202.90" y1="100.00" x2="223.90" y2="100.00" stroke="#444" stroke-width="1.1" />
<line x1="196.20" y1="133.70" x2="209.20" y2="133.70" stroke="#c4c4c4" stroke-width="0.7" />
<line x1="200.20" y1="130.70" x2="205.20" y2="130.70" stroke="#d4d4d4" stroke-width="0.6" />
<line x1="200.20" y1="136.70" x2="205.20" y2="136.70" stroke="#d4d4d4" stroke-width="0.6" />
<line x1="202.70" y1="130.70" x2="202.70" y2="136.70" stroke="#d4d4d4" stroke-width="0.6" />
<line x1="218.70" y1="122.50" x2="229.70" y2="122.50" stroke="#c4c4c4" stroke-width="0.7" />
<line x1="221.70" y1="119.50" x2="226.70" y2="119.50" stroke="#d4d4d4" stroke-width="0.6" />
<line x1="221.70" y1="125.50" x2="226.70" y2="125.50" stroke="#d4d4d4" stroke-width="0.6" />
<line x1="224.20" y1="119.50" x2="224.20" y2="125.50" stroke="#d4d4d4" stroke-width="0.6" />
<circle cx="203.30" cy="113.70" r="1.10" fill="#000" stroke="none" stroke-width="1" />
<circle cx="201.30" cy="125.30" r="1.10" fill="#000" stroke="none" stroke-width="1" />
<circle cx="205.30" cy="125.80" r="1.10" fill="#000" stroke="none" stroke-width="1" />
<circle cx="197.50" cy="136.70" r="1.10" fill="#000" stroke="none" stroke-width="1" />
<circle cx="197.50" cy="138.70" r="1.10" fill="#000" stroke="none" stroke-width="1" />
<circle cx="201.30" cy="137.50" r="1.10" fill="#000" stroke="none" stroke-width="1" />
<circle cx="205.30" cy="138.70" r="1.10" fill="#000" stroke="none" stroke-width="1" />
<circle cx="209.20" cy="138.00" r="1.10" fill="#000" stroke="none" stroke-width="1" />
<circle cx="205.30" cy="140.30" r="1.10" fill="#000" stroke="none" stroke-width="1" />
<circle cx="201.30" cy="142.50" r="1.10" fill="#000" stroke="none" stroke-width="1" />
<circle cx="224.20" cy="105.30" r="1.10" fill="#000" stroke="none" stroke-width="1" />
<circle cx="224.20" cy="108.30" r="1.10" fill="#000" stroke="none" stroke-width="1" />
<circle cx="228.70" cy="107.00" r="1.10" fill="#000" stroke="none" stroke-width="1" />
<circle cx="219.70" cy="122.00" r="1.10" fill="#000" stroke="none" stroke-width="1" />
<circle cx="224.20" cy="120.30" r="1.10" fill="#000" stroke="none" stroke-width="1" />
<circle cx="229.20" cy="123.00" r="1.10" fill="#000" stroke="none" stroke-width="1" />
<circle cx="219.70" cy="126.30" r="1.10" fill="#000" stroke="none" stroke-width="1" />
<circle cx="219.70" cy="129.20" r="1.10" fill="#000" stroke="none" stroke-width="1" />
<circle cx="219.70" cy="131.30" r="1.10" fill="#000" stroke="none" stroke-width="1" />
<circle cx="224.20" cy="130.30" r="1.10" fill="#000" stroke="none" stroke-width="1" />
<circle cx="229.20" cy="128.00" r="1.10" fill="#000" stroke="none" stroke-width="1" />
<circle cx="229.20" cy="130.80" r="1.10" fill="#000" stroke="none" stroke-width="1" />
<line x1="188.50" y1="171.80" x2="188.50" y2="238.80" stroke="#666" stroke-width="0.8" />
<line x1="188.20" y1="238.50" x2="239.50" y2="238.50" stroke="#666" stroke-width="0.8" />
<line x1="186.80" y1="238.50" x2="188.50" y2="238.50" stroke="#666" stroke-width="0.8" />
<text x="178.20" y="241.34" font-size="8.25" stroke="#000" stroke-width="0.12" textLength="7.10" lengthAdjust="spacingAndGlyphs">20</text>
<line x1="186.80" y1="221.95" x2="188.50" y2="221.95" stroke="#666" stroke-width="0.8" />
<text x="178.20" y="224.79" font-size="8.25" stroke="#000" stroke-width="0.12" textLength="7.10" lengthAdjust="spacingAndGlyphs">40</text>
<line x1="186.80" y1="205.40" x2="188.50" y2="205.40" stroke="#666" stroke-width="0.8" />
<text x="178.20" y="208.24" font-size="8.25" stroke="#000" stroke-width="0.12" textLength="7.10" lengthAdjust="spacingAndGlyphs">60</text>
<line x1="186.80" y1="188.85" x2="188.50" y2="188.85" stroke="#666" stroke-width="0.8" />
<text x="178.20" y="191.69" font-size="8.25" stroke="#000" stroke-width="0.12" textLength="7.10" lengthAdjust="spacingAndGlyphs">80</text>
<line x1="186.80" y1="172.30" x2="188.50" y2="172.30" stroke="#666" stroke-width="0.8" />
<text x="174.95" y="175.14" font-size="8.25" stroke="#000" stroke-width="0.12" textLength="10.35" lengthAdjust="spacingAndGlyphs">100</text>
<line x1="202.70" y1="238.50" x2="202.70" y2="240.30" stroke="#666" stroke-width="0.8" />
<line x1="224.20" y1="238.50" x2="224.20" y2="240.30" stroke="#666" stroke-width="0.8" />
<text x="161.11" y="226.20" font-size="9.90" stroke="#000" stroke-width="0.12" textLength="44.00" lengthAdjust="spacingAndGlyphs" transform="rotate(-90 161.11 226.20)">Granzyme B<tspan font-size="5.5" dy="-2.5">+</tspan><tspan dy="2.5">/</tspan></text>
<text x="172.21" y="223.80" font-size="9.90" stroke="#000" stroke-width="0.12" textLength="38.90" lengthAdjust="spacingAndGlyphs" transform="rotate(-90 172.21 223.80)">NK cells (%)</text>
<text x="201.00" y="174.94" font-size="8.25" stroke="#000" stroke-width="0.12" textLength="28.50" lengthAdjust="spacingAndGlyphs"><tspan font-style="italic">P</tspan>=0.0008</text>
<line x1="203.60" y1="176.30" x2="224.30" y2="176.30" stroke="#444" stroke-width="1.1" />
<line x1="196.20" y1="213.50" x2="209.20" y2="213.50" stroke="#c4c4c4" stroke-width="0.7" />
<line x1="200.20" y1="210.50" x2="205.20" y2="210.50" stroke="#d4d4d4" stroke-width="0.6" />
<line x1="200.20" y1="216.50" x2="205.20" y2="216.50" stroke="#d4d4d4" stroke-width="0.6" />
<line x1="202.70" y1="210.50" x2="202.70" y2="216.50" stroke="#d4d4d4" stroke-width="0.6" />
<line x1="220.00" y1="190.00" x2="232.00" y2="190.00" stroke="#c4c4c4" stroke-width="0.7" />
<line x1="223.50" y1="187.00" x2="228.50" y2="187.00" stroke="#d4d4d4" stroke-width="0.6" />
<line x1="223.50" y1="193.00" x2="228.50" y2="193.00" stroke="#d4d4d4" stroke-width="0.6" />
<line x1="226.00" y1="187.00" x2="226.00" y2="193.00" stroke="#d4d4d4" stroke-width="0.6" />
<circle cx="203.70" cy="190.30" r="1.10" fill="#000" stroke="none" stroke-width="1" />
<circle cx="203.70" cy="203.30" r="1.10" fill="#000" stroke="none" stroke-width="1" />
<circle cx="203.70" cy="208.00" r="1.10" fill="#000" stroke="none" stroke-width="1" />
<circle cx="198.00" cy="213.70" r="1.10" fill="#000" stroke="none" stroke-width="1" />
<circle cx="202.00" cy="213.00" r="1.10" fill="#000" stroke="none" stroke-width="1" />
<circle cx="210.00" cy="213.00" r="1.10" fill="#000" stroke="none" stroke-width="1" />
<circle cx="202.00" cy="215.80" r="1.10" fill="#000" stroke="none" stroke-width="1" />
<circle cx="198.00" cy="221.30" r="1.10" fill="#000" stroke="none" stroke-width="1" />
<circle cx="202.00" cy="220.30" r="1.10" fill="#000" stroke="none" stroke-width="1" />
<circle cx="210.00" cy="220.30" r="1.10" fill="#000" stroke="none" stroke-width="1" />
<circle cx="205.80" cy="223.00" r="1.10" fill="#000" stroke="none" stroke-width="1" />
<circle cx="202.00" cy="224.20" r="1.10" fill="#000" stroke="none" stroke-width="1" />
<circle cx="219.70" cy="186.30" r="1.10" fill="#000" stroke="none" stroke-width="1" />
<circle cx="224.20" cy="185.80" r="1.10" fill="#000" stroke="none" stroke-width="1" />
<circle cx="228.00" cy="185.00" r="1.10" fill="#000" stroke="none" stroke-width="1" />
<circle cx="232.00" cy="183.30" r="1.10" fill="#000" stroke="none" stroke-width="1" />
<circle cx="232.00" cy="187.00" r="1.10" fill="#000" stroke="none" stroke-width="1" />
<circle cx="219.70" cy="190.30" r="1.10" fill="#000" stroke="none" stroke-width="1" />
<circle cx="224.20" cy="188.30" r="1.10" fill="#000" stroke="none" stroke-width="1" />
<circle cx="228.00" cy="189.20" r="1.10" fill="#000" stroke="none" stroke-width="1" />
<circle cx="228.00" cy="191.30" r="1.10" fill="#000" stroke="none" stroke-width="1" />
<circle cx="232.00" cy="190.00" r="1.10" fill="#000" stroke="none" stroke-width="1" />
<circle cx="225.30" cy="202.50" r="1.10" fill="#000" stroke="none" stroke-width="1" />
<circle cx="225.30" cy="214.20" r="1.10" fill="#000" stroke="none" stroke-width="1" />
<line x1="188.50" y1="253.00" x2="188.50" y2="318.30" stroke="#666" stroke-width="0.8" />
<line x1="188.20" y1="318.00" x2="239.50" y2="318.00" stroke="#666" stroke-width="0.8" />
<line x1="186.80" y1="318.00" x2="188.50" y2="318.00" stroke="#666" stroke-width="0.8" />
<text x="178.20" y="320.84" font-size="8.25" stroke="#000" stroke-width="0.12" textLength="7.10" lengthAdjust="spacingAndGlyphs">40</text>
<line x1="186.80" y1="305.10" x2="188.50" y2="305.10" stroke="#666" stroke-width="0.8" />
<text x="178.20" y="307.94" font-size="8.25" stroke="#000" stroke-width="0.12" textLength="7.10" lengthAdjust="spacingAndGlyphs">50</text>
<line x1="186.80" y1="292.20" x2="188.50" y2="292.20" stroke="#666" stroke-width="0.8" />
<text x="178.20" y="295.04" font-size="8.25" stroke="#000" stroke-width="0.12" textLength="7.10" lengthAdjust="spacingAndGlyphs">60</text>
<line x1="186.80" y1="279.30" x2="188.50" y2="279.30" stroke="#666" stroke-width="0.8" />
<text x="178.20" y="282.14" font-size="8.25" stroke="#000" stroke-width="0.12" textLength="7.10" lengthAdjust="spacingAndGlyphs">70</text>
<line x1="186.80" y1="266.40" x2="188.50" y2="266.40" stroke="#666" stroke-width="0.8" />
<text x="178.20" y="269.24" font-size="8.25" stroke="#000" stroke-width="0.12" textLength="7.10" lengthAdjust="spacingAndGlyphs">80</text>
<line x1="186.80" y1="253.50" x2="188.50" y2="253.50" stroke="#666" stroke-width="0.8" />
<text x="178.20" y="256.34" font-size="8.25" stroke="#000" stroke-width="0.12" textLength="7.10" lengthAdjust="spacingAndGlyphs">90</text>
<line x1="202.70" y1="318.00" x2="202.70" y2="319.80" stroke="#666" stroke-width="0.8" />
<line x1="224.20" y1="318.00" x2="224.20" y2="319.80" stroke="#666" stroke-width="0.8" />
<text x="161.11" y="294.90" font-size="9.90" stroke="#000" stroke-width="0.12" textLength="30.50" lengthAdjust="spacingAndGlyphs" transform="rotate(-90 161.11 294.90)">Perforin<tspan font-size="5.5" dy="-2.5">+</tspan><tspan dy="2.5">/</tspan></text>
<text x="172.21" y="299.40" font-size="9.90" stroke="#000" stroke-width="0.12" textLength="39.50" lengthAdjust="spacingAndGlyphs" transform="rotate(-90 172.21 299.40)">NK cells (%)</text>
<text x="201.90" y="251.94" font-size="8.25" stroke="#000" stroke-width="0.12" textLength="27.90" lengthAdjust="spacingAndGlyphs"><tspan font-style="italic">P</tspan>=0.0007</text>
<line x1="203.20" y1="253.30" x2="224.30" y2="253.30" stroke="#444" stroke-width="1.1" />
<line x1="196.20" y1="290.30" x2="209.20" y2="290.30" stroke="#c4c4c4" stroke-width="0.7" />
<line x1="200.20" y1="287.30" x2="205.20" y2="287.30" stroke="#d4d4d4" stroke-width="0.6" />
<line x1="200.20" y1="293.30" x2="205.20" y2="293.30" stroke="#d4d4d4" stroke-width="0.6" />
<line x1="202.70" y1="287.30" x2="202.70" y2="293.30" stroke="#d4d4d4" stroke-width="0.6" />
<line x1="218.50" y1="267.50" x2="230.50" y2="267.50" stroke="#c4c4c4" stroke-width="0.7" />
<line x1="222.00" y1="264.50" x2="227.00" y2="264.50" stroke="#d4d4d4" stroke-width="0.6" />
<line x1="222.00" y1="270.50" x2="227.00" y2="270.50" stroke="#d4d4d4" stroke-width="0.6" />
<line x1="224.50" y1="264.50" x2="224.50" y2="270.50" stroke="#d4d4d4" stroke-width="0.6" />
<circle cx="203.40" cy="274.70" r="1.10" fill="#000" stroke="none" stroke-width="1" />
<circle cx="203.40" cy="279.00" r="1.10" fill="#000" stroke="none" stroke-width="1" />
<circle cx="205.80" cy="282.60" r="1.10" fill="#000" stroke="none" stroke-width="1" />
<circle cx="201.60" cy="285.00" r="1.10" fill="#000" stroke="none" stroke-width="1" />
<circle cx="205.80" cy="287.30" r="1.10" fill="#000" stroke="none" stroke-width="1" />
<circle cx="201.60" cy="288.50" r="1.10" fill="#000" stroke="none" stroke-width="1" />
<circle cx="197.50" cy="293.90" r="1.10" fill="#000" stroke="none" stroke-width="1" />
<circle cx="201.60" cy="295.70" r="1.10" fill="#000" stroke="none" stroke-width="1" />
<circle cx="205.80" cy="295.20" r="1.10" fill="#000" stroke="none" stroke-width="1" />
<circle cx="209.40" cy="293.40" r="1.10" fill="#000" stroke="none" stroke-width="1" />
<circle cx="203.40" cy="302.30" r="1.10" fill="#000" stroke="none" stroke-width="1" />
<circle cx="203.40" cy="307.00" r="1.10" fill="#000" stroke="none" stroke-width="1" />
<circle cx="224.40" cy="256.30" r="1.10" fill="#000" stroke="none" stroke-width="1" />
<circle cx="218.70" cy="263.40" r="1.10" fill="#000" stroke="none" stroke-width="1" />
<circle cx="222.60" cy="265.80" r="1.10" fill="#000" stroke="none" stroke-width="1" />
<circle cx="226.70" cy="264.70" r="1.10" fill="#000" stroke="none" stroke-width="1" />
<circle cx="230.90" cy="263.40" r="1.10" fill="#000" stroke="none" stroke-width="1" />
<circle cx="218.70" cy="267.90" r="1.10" fill="#000" stroke="none" stroke-width="1" />
<circle cx="222.60" cy="268.80" r="1.10" fill="#000" stroke="none" stroke-width="1" />
<circle cx="226.70" cy="268.80" r="1.10" fill="#000" stroke="none" stroke-width="1" />
<circle cx="230.90" cy="269.40" r="1.10" fill="#000" stroke="none" stroke-width="1" />
<circle cx="224.40" cy="271.90" r="1.10" fill="#000" stroke="none" stroke-width="1" />
<circle cx="222.60" cy="286.70" r="1.10" fill="#000" stroke="none" stroke-width="1" />
<circle cx="226.70" cy="285.00" r="1.10" fill="#000" stroke="none" stroke-width="1" />
<text x="208.10" y="325.44" font-size="7.48" text-anchor="end" stroke="#000" stroke-width="0.12" textLength="9.60" lengthAdjust="spacingAndGlyphs" transform="rotate(-45 208.10 325.44)">Ctrl</text>
<text x="227.60" y="326.24" font-size="7.48" text-anchor="end" stroke="#000" stroke-width="0.12" textLength="19.42" lengthAdjust="spacingAndGlyphs" transform="rotate(-45 227.60 326.24)">αVEGF</text>
<rect x="264.00" y="2.00" width="195.80" height="73.60" fill="#fdfdfd" stroke="none" stroke-width="0" />
<path d="M264.00 75.60 L264.00 2.00 L459.80 2.00" stroke="#ececec" stroke-width="0.8" fill="none"/>
<defs><linearGradient id="gdh" x1="0" x2="1" y1="0" y2="0"><stop offset="0" stop-color="#f6f6f6"/><stop offset="0.6" stop-color="#b4b4b4"/><stop offset="1" stop-color="#8e8e8e"/></linearGradient><linearGradient id="gdv" x1="0" x2="0" y1="0" y2="1"><stop offset="0" stop-color="#f6f6f6"/><stop offset="0.6" stop-color="#b4b4b4"/><stop offset="1" stop-color="#8e8e8e"/></linearGradient></defs>
<path d="M455.20 2.00 L459.80 2.00 L459.80 75.60 L455.20 70.60 Z" fill="url(#gdh)"/>
<path d="M264.00 70.60 L455.20 70.60 L459.80 75.60 L264.00 75.60 Z" fill="url(#gdv)"/>
<text x="270.50" y="12.95" font-size="13.53" stroke="#000" stroke-width="0.12" textLength="7.80" lengthAdjust="spacingAndGlyphs" font-weight="bold">D</text>
<g transform="translate(285.30 38.80) scale(1.0)"><path d="M-2.0,-3.6 L-5.4,-7.4 M2.0,-3.6 L5.4,-7.4 M-2.2,6.0 L-5.2,9.4 M2.2,6.0 L5.2,9.4 M0,7.2 L0,11.0" stroke="#d9b0a8" stroke-width="0.85" fill="none" stroke-linecap="round"/><ellipse cx="0" cy="1.6" rx="3.25" ry="6.0" fill="#e9e5e1" stroke="#c4b6ae" stroke-width="0.55"/><path d="M0,-10.6 C1.3,-9.8 2.7,-8.0 2.5,-6.2 C2.4,-4.6 1.4,-3.8 0,-3.8 C-1.4,-3.8 -2.4,-4.6 -2.5,-6.2 C-2.7,-8.0 -1.3,-9.8 0,-10.6 Z" fill="#ebe7e3" stroke="#c4b6ae" stroke-width="0.55"/><circle cx="-2.1" cy="-7.0" r="0.8" fill="#eab4ac"/><circle cx="2.1" cy="-7.0" r="0.8" fill="#eab4ac"/><circle cx="2.8" cy="4.2" r="1.05" fill="#4b42b5"/></g>
<text x="275.30" y="61.43" font-size="8.80" fill="#5a3cff" stroke="#5a3cff" stroke-width="0.12" textLength="29.30" lengthAdjust="spacingAndGlyphs">SN model</text>
<text x="306.70" y="18.43" font-size="8.80" fill="#ff1aff" stroke="#ff1aff" stroke-width="0.12" textLength="21.10" lengthAdjust="spacingAndGlyphs">αCD8/</text>
<text x="306.40" y="28.83" font-size="8.80" fill="#2020ff" stroke="#2020ff" stroke-width="0.12" textLength="23.00" lengthAdjust="spacingAndGlyphs">αNK1.1</text>
<line x1="293.20" y1="40.20" x2="438.50" y2="40.20" stroke="#111" stroke-width="1.2" />
<path d="M435.0 37.2 L439.5 40.2 L435.0 43.2" stroke="#111" stroke-width="1.0" fill="none" />
<line x1="302.20" y1="37.60" x2="302.20" y2="42.80" stroke="#111" stroke-width="0.9" />
<line x1="306.77" y1="38.50" x2="306.77" y2="41.90" stroke="#111" stroke-width="0.8" />
<line x1="311.34" y1="38.50" x2="311.34" y2="41.90" stroke="#111" stroke-width="0.8" />
<line x1="315.91" y1="38.50" x2="315.91" y2="41.90" stroke="#111" stroke-width="0.8" />
<line x1="320.49" y1="38.50" x2="320.49" y2="41.90" stroke="#111" stroke-width="0.8" />
<line x1="325.06" y1="38.50" x2="325.06" y2="41.90" stroke="#111" stroke-width="0.8" />
<line x1="329.63" y1="38.50" x2="329.63" y2="41.90" stroke="#111" stroke-width="0.8" />
<line x1="334.20" y1="37.60" x2="334.20" y2="42.80" stroke="#111" stroke-width="0.9" />
<line x1="338.86" y1="38.50" x2="338.86" y2="41.90" stroke="#111" stroke-width="0.8" />
<line x1="343.51" y1="38.50" x2="343.51" y2="41.90" stroke="#111" stroke-width="0.8" />
<line x1="348.17" y1="38.50" x2="348.17" y2="41.90" stroke="#111" stroke-width="0.8" />
<line x1="352.83" y1="38.50" x2="352.83" y2="41.90" stroke="#111" stroke-width="0.8" />
<line x1="357.49" y1="38.50" x2="357.49" y2="41.90" stroke="#111" stroke-width="0.8" />
<line x1="362.14" y1="38.50" x2="362.14" y2="41.90" stroke="#111" stroke-width="0.8" />
<line x1="366.80" y1="37.60" x2="366.80" y2="42.80" stroke="#111" stroke-width="0.9" />
<line x1="371.37" y1="38.50" x2="371.37" y2="41.90" stroke="#111" stroke-width="0.8" />
<line x1="375.94" y1="38.50" x2="375.94" y2="41.90" stroke="#111" stroke-width="0.8" />
<line x1="380.51" y1="38.50" x2="380.51" y2="41.90" stroke="#111" stroke-width="0.8" />
<line x1="385.09" y1="38.50" x2="385.09" y2="41.90" stroke="#111" stroke-width="0.8" />
<line x1="389.66" y1="38.50" x2="389.66" y2="41.90" stroke="#111" stroke-width="0.8" />
<line x1="394.23" y1="38.50" x2="394.23" y2="41.90" stroke="#111" stroke-width="0.8" />
<line x1="398.80" y1="37.60" x2="398.80" y2="42.80" stroke="#111" stroke-width="0.9" />
<line x1="403.29" y1="38.50" x2="403.29" y2="41.90" stroke="#111" stroke-width="0.8" />
<line x1="407.77" y1="38.50" x2="407.77" y2="41.90" stroke="#111" stroke-width="0.8" />
<line x1="412.26" y1="38.50" x2="412.26" y2="41.90" stroke="#111" stroke-width="0.8" />
<line x1="416.74" y1="38.50" x2="416.74" y2="41.90" stroke="#111" stroke-width="0.8" />
<line x1="421.23" y1="38.50" x2="421.23" y2="41.90" stroke="#111" stroke-width="0.8" />
<line x1="425.71" y1="38.50" x2="425.71" y2="41.90" stroke="#111" stroke-width="0.8" />
<line x1="430.20" y1="37.60" x2="430.20" y2="42.80" stroke="#111" stroke-width="0.9" />
<text x="300.20" y="50.94" font-size="8.25" stroke="#000" stroke-width="0.12" textLength="4.00" lengthAdjust="spacingAndGlyphs">0</text>
<text x="332.20" y="50.94" font-size="8.25" stroke="#000" stroke-width="0.12" textLength="4.00" lengthAdjust="spacingAndGlyphs">7</text>
<text x="363.40" y="50.94" font-size="8.25" stroke="#000" stroke-width="0.12" textLength="6.80" lengthAdjust="spacingAndGlyphs">14</text>
<text x="395.40" y="50.94" font-size="8.25" stroke="#000" stroke-width="0.12" textLength="6.80" lengthAdjust="spacingAndGlyphs">21</text>
<text x="426.80" y="50.94" font-size="8.25" stroke="#000" stroke-width="0.12" textLength="6.80" lengthAdjust="spacingAndGlyphs">28</text>
<line x1="298.00" y1="29.00" x2="298.00" y2="33.80" stroke="#ff1aff" stroke-width="1.3" />
<path d="M295.90 33.50 L300.10 33.50 L298.00 36.50 Z" fill="#ff1aff"/>
<line x1="300.40" y1="29.00" x2="300.40" y2="33.80" stroke="#2020ff" stroke-width="1.3" />
<path d="M298.30 33.50 L302.50 33.50 L300.40 36.50 Z" fill="#2020ff"/>
<line x1="331.20" y1="29.00" x2="331.20" y2="33.80" stroke="#ff1aff" stroke-width="1.3" />
<path d="M329.10 33.50 L333.30 33.50 L331.20 36.50 Z" fill="#ff1aff"/>
<line x1="333.60" y1="29.00" x2="333.60" y2="33.80" stroke="#2020ff" stroke-width="1.3" />
<path d="M331.50 33.50 L335.70 33.50 L333.60 36.50 Z" fill="#2020ff"/>
<path d="M338.1 34.4 L338.1 31.0 L430.5 31.0 L430.5 34.2" stroke="#7a9ae0" stroke-width="0.9" fill="none" />
<text x="354.10" y="29.10" font-size="8.25" stroke="#000" stroke-width="0.12" textLength="55.70" lengthAdjust="spacingAndGlyphs"><tspan fill="#ff1a1a" stroke="#ff1a1a">αVEGF+αPD1</tspan>/Ctrl</text>
<text x="318.50" y="57.74" font-size="8.25" stroke="#000" stroke-width="0.12" textLength="32.10" lengthAdjust="spacingAndGlyphs">Randomize</text>
<text x="321.40" y="66.80" font-size="8.25" stroke="#000" stroke-width="0.12" textLength="25.00" lengthAdjust="spacingAndGlyphs">Gluc&gt;10<tspan font-size="4.5" dy="-2.8">8</tspan></text>
<text x="375.70" y="64.04" font-size="8.25" stroke="#000" stroke-width="0.12" textLength="66.60" lengthAdjust="spacingAndGlyphs">Days after implantation</text>
<text x="268.60" y="90.25" font-size="13.53" stroke="#000" stroke-width="0.12" textLength="6.50" lengthAdjust="spacingAndGlyphs" font-weight="bold">E</text>
<text x="292.70" y="92.13" font-size="8.80" fill="#2828ff" stroke="#2828ff" stroke-width="0.12" textLength="35.90" lengthAdjust="spacingAndGlyphs">CD8<tspan font-size="5.5" dy="-2.6">+</tspan><tspan dy="2.6"> T cell</tspan></text>
<text x="400.70" y="93.63" font-size="8.80" fill="#2828ff" stroke="#2828ff" stroke-width="0.12" textLength="23.30" lengthAdjust="spacingAndGlyphs">NK cell</text>
<line x1="296.50" y1="98.20" x2="296.50" y2="184.30" stroke="#222" stroke-width="1.0" />
<line x1="296.50" y1="183.80" x2="365.50" y2="183.80" stroke="#222" stroke-width="1.0" />
<line x1="293.50" y1="183.80" x2="296.50" y2="183.80" stroke="#222" stroke-width="0.9" />
<text x="288.90" y="186.64" font-size="8.25" stroke="#000" stroke-width="0.12" textLength="3.90" lengthAdjust="spacingAndGlyphs">0</text>
<line x1="293.50" y1="169.52" x2="296.50" y2="169.52" stroke="#222" stroke-width="0.9" />
<text x="285.60" y="172.36" font-size="8.25" stroke="#000" stroke-width="0.12" textLength="7.20" lengthAdjust="spacingAndGlyphs">20</text>
<line x1="293.50" y1="155.24" x2="296.50" y2="155.24" stroke="#222" stroke-width="0.9" />
<text x="285.60" y="158.08" font-size="8.25" stroke="#000" stroke-width="0.12" textLength="7.20" lengthAdjust="spacingAndGlyphs">40</text>
<line x1="293.50" y1="140.96" x2="296.50" y2="140.96" stroke="#222" stroke-width="0.9" />
<text x="285.60" y="143.80" font-size="8.25" stroke="#000" stroke-width="0.12" textLength="7.20" lengthAdjust="spacingAndGlyphs">60</text>
<line x1="293.50" y1="126.68" x2="296.50" y2="126.68" stroke="#222" stroke-width="0.9" />
<text x="285.60" y="129.52" font-size="8.25" stroke="#000" stroke-width="0.12" textLength="7.20" lengthAdjust="spacingAndGlyphs">80</text>
<line x1="293.50" y1="112.40" x2="296.50" y2="112.40" stroke="#222" stroke-width="0.9" />
<text x="282.30" y="115.24" font-size="8.25" stroke="#000" stroke-width="0.12" textLength="10.50" lengthAdjust="spacingAndGlyphs">100</text>
<line x1="306.90" y1="183.80" x2="306.90" y2="186.00" stroke="#222" stroke-width="0.9" />
<line x1="323.00" y1="183.80" x2="323.00" y2="186.00" stroke="#222" stroke-width="0.9" />
<line x1="339.20" y1="183.80" x2="339.20" y2="186.00" stroke="#222" stroke-width="0.9" />
<line x1="355.30" y1="183.80" x2="355.30" y2="186.00" stroke="#222" stroke-width="0.9" />
<text x="275.92" y="163.00" font-size="9.35" stroke="#000" stroke-width="0.12" textLength="53.80" lengthAdjust="spacingAndGlyphs" transform="rotate(-90 275.92 163.00)">% of CD45<tspan font-size="5.5" dy="-2.6">+</tspan><tspan dy="2.6">CD3</tspan><tspan font-size="5.5" dy="-2.6">+</tspan><tspan dy="2.6"></tspan></text>
<circle cx="304.80" cy="145.30" r="1.80" fill="#000" stroke="none" stroke-width="1" />
<circle cx="308.70" cy="144.70" r="1.80" fill="#000" stroke="none" stroke-width="1" />
<circle cx="302.90" cy="150.00" r="1.80" fill="#000" stroke="none" stroke-width="1" />
<circle cx="307.10" cy="150.40" r="1.80" fill="#000" stroke="none" stroke-width="1" />
<circle cx="311.00" cy="151.60" r="1.80" fill="#000" stroke="none" stroke-width="1" />
<circle cx="307.10" cy="156.90" r="1.80" fill="#000" stroke="none" stroke-width="1" />
<circle cx="323.30" cy="107.70" r="1.80" fill="#000" stroke="none" stroke-width="1" />
<circle cx="323.30" cy="116.90" r="1.80" fill="#000" stroke="none" stroke-width="1" />
<circle cx="319.10" cy="121.60" r="1.80" fill="#000" stroke="none" stroke-width="1" />
<circle cx="323.30" cy="121.60" r="1.80" fill="#000" stroke="none" stroke-width="1" />
<circle cx="327.20" cy="122.30" r="1.80" fill="#000" stroke="none" stroke-width="1" />
<circle cx="323.30" cy="133.80" r="1.80" fill="#000" stroke="none" stroke-width="1" />
<circle cx="338.70" cy="122.30" r="1.80" fill="#000" stroke="none" stroke-width="1" />
<circle cx="338.70" cy="136.60" r="1.80" fill="#000" stroke="none" stroke-width="1" />
<circle cx="335.30" cy="140.70" r="1.80" fill="#000" stroke="none" stroke-width="1" />
<circle cx="338.70" cy="140.00" r="1.80" fill="#000" stroke="none" stroke-width="1" />
<circle cx="335.70" cy="145.30" r="1.80" fill="#000" stroke="none" stroke-width="1" />
<circle cx="339.40" cy="144.00" r="1.80" fill="#000" stroke="none" stroke-width="1" />
<circle cx="342.70" cy="143.50" r="1.80" fill="#000" stroke="none" stroke-width="1" />
<circle cx="354.90" cy="151.60" r="1.80" fill="#000" stroke="none" stroke-width="1" />
<circle cx="351.40" cy="157.80" r="1.80" fill="#000" stroke="none" stroke-width="1" />
<circle cx="355.60" cy="159.70" r="1.80" fill="#000" stroke="none" stroke-width="1" />
<circle cx="358.40" cy="159.20" r="1.80" fill="#000" stroke="none" stroke-width="1" />
<circle cx="351.40" cy="162.40" r="1.80" fill="#000" stroke="none" stroke-width="1" />
<circle cx="355.60" cy="160.80" r="1.80" fill="#000" stroke="none" stroke-width="1" />
<line x1="301.90" y1="150.40" x2="311.90" y2="150.40" stroke="#111" stroke-width="0.8" />
<line x1="306.90" y1="147.00" x2="306.90" y2="154.60" stroke="#111" stroke-width="0.7" />
<line x1="304.40" y1="147.00" x2="309.40" y2="147.00" stroke="#111" stroke-width="0.7" />
<line x1="304.40" y1="154.60" x2="309.40" y2="154.60" stroke="#111" stroke-width="0.7" />
<line x1="318.00" y1="122.30" x2="328.00" y2="122.30" stroke="#111" stroke-width="0.8" />
<line x1="323.00" y1="112.30" x2="323.00" y2="129.20" stroke="#111" stroke-width="0.7" />
<line x1="320.50" y1="112.30" x2="325.50" y2="112.30" stroke="#111" stroke-width="0.7" />
<line x1="320.50" y1="129.20" x2="325.50" y2="129.20" stroke="#111" stroke-width="0.7" />
<line x1="334.20" y1="139.30" x2="344.20" y2="139.30" stroke="#111" stroke-width="0.8" />
<line x1="339.20" y1="130.80" x2="339.20" y2="147.00" stroke="#111" stroke-width="0.7" />
<line x1="336.70" y1="130.80" x2="341.70" y2="130.80" stroke="#111" stroke-width="0.7" />
<line x1="336.70" y1="147.00" x2="341.70" y2="147.00" stroke="#111" stroke-width="0.7" />
<line x1="350.30" y1="157.80" x2="360.30" y2="157.80" stroke="#111" stroke-width="0.8" />
<line x1="355.30" y1="154.60" x2="355.30" y2="162.40" stroke="#111" stroke-width="0.7" />
<line x1="352.80" y1="154.60" x2="357.80" y2="154.60" stroke="#111" stroke-width="0.7" />
<line x1="352.80" y1="162.40" x2="357.80" y2="162.40" stroke="#111" stroke-width="0.7" />
<path d="M322.90 104.50 L322.90 101.30 L356.80 101.30 L356.80 104.50" stroke="#333" stroke-width="0.75" fill="none" />
<text x="329.00" y="100.44" font-size="8.25" stroke="#000" stroke-width="0.12" textLength="24.60" lengthAdjust="spacingAndGlyphs"><tspan font-style="italic">P</tspan>=0.008</text>
<line x1="398.50" y1="99.00" x2="398.50" y2="184.30" stroke="#222" stroke-width="1.0" />
<line x1="398.50" y1="183.80" x2="464.00" y2="183.80" stroke="#222" stroke-width="1.0" />
<line x1="395.50" y1="183.80" x2="398.50" y2="183.80" stroke="#222" stroke-width="0.9" />
<text x="390.60" y="186.64" font-size="8.25" stroke="#000" stroke-width="0.12" textLength="3.90" lengthAdjust="spacingAndGlyphs">0</text>
<line x1="395.50" y1="155.60" x2="398.50" y2="155.60" stroke="#222" stroke-width="0.9" />
<text x="390.60" y="158.44" font-size="8.25" stroke="#000" stroke-width="0.12" textLength="3.90" lengthAdjust="spacingAndGlyphs">5</text>
<line x1="395.50" y1="127.40" x2="398.50" y2="127.40" stroke="#222" stroke-width="0.9" />
<text x="387.30" y="130.24" font-size="8.25" stroke="#000" stroke-width="0.12" textLength="7.20" lengthAdjust="spacingAndGlyphs">10</text>
<line x1="395.50" y1="99.20" x2="398.50" y2="99.20" stroke="#222" stroke-width="0.9" />
<text x="387.30" y="102.04" font-size="8.25" stroke="#000" stroke-width="0.12" textLength="7.20" lengthAdjust="spacingAndGlyphs">15</text>
<line x1="408.50" y1="183.80" x2="408.50" y2="186.00" stroke="#222" stroke-width="0.9" />
<line x1="423.70" y1="183.80" x2="423.70" y2="186.00" stroke="#222" stroke-width="0.9" />
<line x1="439.20" y1="183.80" x2="439.20" y2="186.00" stroke="#222" stroke-width="0.9" />
<line x1="455.30" y1="183.80" x2="455.30" y2="186.00" stroke="#222" stroke-width="0.9" />
<text x="384.22" y="155.70" font-size="9.35" stroke="#000" stroke-width="0.12" textLength="35.70" lengthAdjust="spacingAndGlyphs" transform="rotate(-90 384.22 155.70)">% of CD45<tspan font-size="5.5" dy="-2.6">+</tspan><tspan dy="2.6"></tspan></text>
<circle cx="405.20" cy="162.40" r="1.80" fill="#000" stroke="none" stroke-width="1" />
<circle cx="412.40" cy="159.70" r="1.80" fill="#000" stroke="none" stroke-width="1" />
<circle cx="412.40" cy="164.40" r="1.80" fill="#000" stroke="none" stroke-width="1" />
<circle cx="405.20" cy="171.20" r="1.80" fill="#000" stroke="none" stroke-width="1" />
<circle cx="412.40" cy="175.30" r="1.80" fill="#000" stroke="none" stroke-width="1" />
<circle cx="408.70" cy="178.20" r="1.80" fill="#000" stroke="none" stroke-width="1" />
<circle cx="421.00" cy="130.90" r="1.80" fill="#000" stroke="none" stroke-width="1" />
<circle cx="427.80" cy="128.90" r="1.80" fill="#000" stroke="none" stroke-width="1" />
<circle cx="424.70" cy="135.70" r="1.80" fill="#000" stroke="none" stroke-width="1" />
<circle cx="421.00" cy="147.40" r="1.80" fill="#000" stroke="none" stroke-width="1" />
<circle cx="427.80" cy="148.60" r="1.80" fill="#000" stroke="none" stroke-width="1" />
<circle cx="424.30" cy="163.80" r="1.80" fill="#000" stroke="none" stroke-width="1" />
<circle cx="436.60" cy="174.00" r="1.80" fill="#000" stroke="none" stroke-width="1" />
<circle cx="443.20" cy="176.10" r="1.80" fill="#000" stroke="none" stroke-width="1" />
<circle cx="438.10" cy="179.80" r="1.80" fill="#000" stroke="none" stroke-width="1" />
<circle cx="441.60" cy="180.80" r="1.80" fill="#000" stroke="none" stroke-width="1" />
<circle cx="436.00" cy="181.90" r="1.80" fill="#000" stroke="none" stroke-width="1" />
<circle cx="440.10" cy="182.30" r="1.80" fill="#000" stroke="none" stroke-width="1" />
<circle cx="443.60" cy="181.40" r="1.80" fill="#000" stroke="none" stroke-width="1" />
<circle cx="455.50" cy="132.20" r="1.80" fill="#000" stroke="none" stroke-width="1" />
<circle cx="455.50" cy="147.40" r="1.80" fill="#000" stroke="none" stroke-width="1" />
<circle cx="455.50" cy="151.10" r="1.80" fill="#000" stroke="none" stroke-width="1" />
<circle cx="455.50" cy="155.60" r="1.80" fill="#000" stroke="none" stroke-width="1" />
<circle cx="455.50" cy="159.30" r="1.80" fill="#000" stroke="none" stroke-width="1" />
<line x1="403.50" y1="168.50" x2="413.50" y2="168.50" stroke="#111" stroke-width="0.8" />
<line x1="408.50" y1="165.40" x2="408.50" y2="171.60" stroke="#111" stroke-width="0.7" />
<line x1="406.00" y1="165.40" x2="411.00" y2="165.40" stroke="#111" stroke-width="0.7" />
<line x1="406.00" y1="171.60" x2="411.00" y2="171.60" stroke="#111" stroke-width="0.7" />
<line x1="419.00" y1="142.40" x2="429.00" y2="142.40" stroke="#111" stroke-width="0.8" />
<line x1="424.00" y1="137.10" x2="424.00" y2="147.00" stroke="#111" stroke-width="0.7" />
<line x1="421.50" y1="137.10" x2="426.50" y2="137.10" stroke="#111" stroke-width="0.7" />
<line x1="421.50" y1="147.00" x2="426.50" y2="147.00" stroke="#111" stroke-width="0.7" />
<line x1="434.50" y1="179.40" x2="444.50" y2="179.40" stroke="#111" stroke-width="0.8" />
<line x1="439.50" y1="177.50" x2="439.50" y2="181.50" stroke="#111" stroke-width="0.7" />
<line x1="437.00" y1="177.50" x2="442.00" y2="177.50" stroke="#111" stroke-width="0.7" />
<line x1="437.00" y1="181.50" x2="442.00" y2="181.50" stroke="#111" stroke-width="0.7" />
<line x1="450.30" y1="149.00" x2="460.30" y2="149.00" stroke="#111" stroke-width="0.8" />
<line x1="455.30" y1="144.50" x2="455.30" y2="154.10" stroke="#111" stroke-width="0.7" />
<line x1="452.80" y1="144.50" x2="457.80" y2="144.50" stroke="#111" stroke-width="0.7" />
<line x1="452.80" y1="154.10" x2="457.80" y2="154.10" stroke="#111" stroke-width="0.7" />
<path d="M423.70 125.00 L423.70 122.70 L440.80 122.70 L440.80 125.00" stroke="#333" stroke-width="0.75" fill="none" />
<text x="418.90" y="120.24" font-size="8.25" stroke="#000" stroke-width="0.12" textLength="24.60" lengthAdjust="spacingAndGlyphs"><tspan font-style="italic">P</tspan>=0.006</text>
<text x="295.70" y="198.20" font-size="8.25" text-anchor="end" stroke="#000" stroke-width="0.12" textLength="23.60" lengthAdjust="spacingAndGlyphs">αVEGF</text>
<line x1="305.70" y1="195.50" x2="308.10" y2="195.50" stroke="#000" stroke-width="0.8" />
<line x1="320.90" y1="195.50" x2="325.10" y2="195.50" stroke="#000" stroke-width="0.75" />
<line x1="323.00" y1="193.40" x2="323.00" y2="197.60" stroke="#000" stroke-width="0.75" />
<line x1="337.10" y1="195.50" x2="341.30" y2="195.50" stroke="#000" stroke-width="0.75" />
<line x1="339.20" y1="193.40" x2="339.20" y2="197.60" stroke="#000" stroke-width="0.75" />
<line x1="353.20" y1="195.50" x2="357.40" y2="195.50" stroke="#000" stroke-width="0.75" />
<line x1="355.30" y1="193.40" x2="355.30" y2="197.60" stroke="#000" stroke-width="0.75" />
<text x="395.70" y="198.20" font-size="8.25" text-anchor="end" stroke="#000" stroke-width="0.12" textLength="23.60" lengthAdjust="spacingAndGlyphs">αVEGF</text>
<line x1="406.70" y1="195.50" x2="409.10" y2="195.50" stroke="#000" stroke-width="0.8" />
<line x1="421.40" y1="195.50" x2="425.60" y2="195.50" stroke="#000" stroke-width="0.75" />
<line x1="423.50" y1="193.40" x2="423.50" y2="197.60" stroke="#000" stroke-width="0.75" />
<line x1="437.40" y1="195.50" x2="441.60" y2="195.50" stroke="#000" stroke-width="0.75" />
<line x1="439.50" y1="193.40" x2="439.50" y2="197.60" stroke="#000" stroke-width="0.75" />
<line x1="453.90" y1="195.50" x2="458.10" y2="195.50" stroke="#000" stroke-width="0.75" />
<line x1="456.00" y1="193.40" x2="456.00" y2="197.60" stroke="#000" stroke-width="0.75" />
<text x="295.70" y="206.40" font-size="8.25" text-anchor="end" stroke="#000" stroke-width="0.12" textLength="18.40" lengthAdjust="spacingAndGlyphs">αPD1</text>
<line x1="305.70" y1="203.70" x2="308.10" y2="203.70" stroke="#000" stroke-width="0.8" />
<line x1="320.90" y1="203.70" x2="325.10" y2="203.70" stroke="#000" stroke-width="0.75" />
<line x1="323.00" y1="201.60" x2="323.00" y2="205.80" stroke="#000" stroke-width="0.75" />
<line x1="337.10" y1="203.70" x2="341.30" y2="203.70" stroke="#000" stroke-width="0.75" />
<line x1="339.20" y1="201.60" x2="339.20" y2="205.80" stroke="#000" stroke-width="0.75" />
<line x1="353.20" y1="203.70" x2="357.40" y2="203.70" stroke="#000" stroke-width="0.75" />
<line x1="355.30" y1="201.60" x2="355.30" y2="205.80" stroke="#000" stroke-width="0.75" />
<text x="395.70" y="206.40" font-size="8.25" text-anchor="end" stroke="#000" stroke-width="0.12" textLength="18.40" lengthAdjust="spacingAndGlyphs">αPD1</text>
<line x1="406.70" y1="203.70" x2="409.10" y2="203.70" stroke="#000" stroke-width="0.8" />
<line x1="421.40" y1="203.70" x2="425.60" y2="203.70" stroke="#000" stroke-width="0.75" />
<line x1="423.50" y1="201.60" x2="423.50" y2="205.80" stroke="#000" stroke-width="0.75" />
<line x1="437.40" y1="203.70" x2="441.60" y2="203.70" stroke="#000" stroke-width="0.75" />
<line x1="439.50" y1="201.60" x2="439.50" y2="205.80" stroke="#000" stroke-width="0.75" />
<line x1="453.90" y1="203.70" x2="458.10" y2="203.70" stroke="#000" stroke-width="0.75" />
<line x1="456.00" y1="201.60" x2="456.00" y2="205.80" stroke="#000" stroke-width="0.75" />
<text x="295.70" y="214.10" font-size="8.25" text-anchor="end" stroke="#000" stroke-width="0.12" textLength="15.00" lengthAdjust="spacingAndGlyphs">αNK</text>
<line x1="305.70" y1="211.40" x2="308.10" y2="211.40" stroke="#000" stroke-width="0.8" />
<line x1="321.80" y1="211.40" x2="324.20" y2="211.40" stroke="#000" stroke-width="0.8" />
<line x1="337.10" y1="211.40" x2="341.30" y2="211.40" stroke="#000" stroke-width="0.75" />
<line x1="339.20" y1="209.30" x2="339.20" y2="213.50" stroke="#000" stroke-width="0.75" />
<line x1="354.10" y1="211.40" x2="356.50" y2="211.40" stroke="#000" stroke-width="0.8" />
<text x="395.70" y="214.10" font-size="8.25" text-anchor="end" stroke="#000" stroke-width="0.12" textLength="15.00" lengthAdjust="spacingAndGlyphs">αNK</text>
<line x1="406.70" y1="211.40" x2="409.10" y2="211.40" stroke="#000" stroke-width="0.8" />
<line x1="422.30" y1="211.40" x2="424.70" y2="211.40" stroke="#000" stroke-width="0.8" />
<line x1="437.40" y1="211.40" x2="441.60" y2="211.40" stroke="#000" stroke-width="0.75" />
<line x1="439.50" y1="209.30" x2="439.50" y2="213.50" stroke="#000" stroke-width="0.75" />
<line x1="454.80" y1="211.40" x2="457.20" y2="211.40" stroke="#000" stroke-width="0.8" />
<text x="295.70" y="222.70" font-size="8.25" text-anchor="end" stroke="#000" stroke-width="0.12" textLength="19.00" lengthAdjust="spacingAndGlyphs">αCD8</text>
<line x1="305.70" y1="220.00" x2="308.10" y2="220.00" stroke="#000" stroke-width="0.8" />
<line x1="321.80" y1="220.00" x2="324.20" y2="220.00" stroke="#000" stroke-width="0.8" />
<line x1="338.00" y1="220.00" x2="340.40" y2="220.00" stroke="#000" stroke-width="0.8" />
<line x1="353.20" y1="220.00" x2="357.40" y2="220.00" stroke="#000" stroke-width="0.75" />
<line x1="355.30" y1="217.90" x2="355.30" y2="222.10" stroke="#000" stroke-width="0.75" />
<text x="395.70" y="222.70" font-size="8.25" text-anchor="end" stroke="#000" stroke-width="0.12" textLength="19.00" lengthAdjust="spacingAndGlyphs">αCD8</text>
<line x1="406.70" y1="220.00" x2="409.10" y2="220.00" stroke="#000" stroke-width="0.8" />
<line x1="422.30" y1="220.00" x2="424.70" y2="220.00" stroke="#000" stroke-width="0.8" />
<line x1="438.30" y1="220.00" x2="440.70" y2="220.00" stroke="#000" stroke-width="0.8" />
<line x1="453.90" y1="220.00" x2="458.10" y2="220.00" stroke="#000" stroke-width="0.75" />
<line x1="456.00" y1="217.90" x2="456.00" y2="222.10" stroke="#000" stroke-width="0.75" />
<text x="269.70" y="255.55" font-size="13.53" stroke="#000" stroke-width="0.12" textLength="6.10" lengthAdjust="spacingAndGlyphs" font-weight="bold">F</text>
<line x1="292.80" y1="249.00" x2="292.80" y2="363.50" stroke="#111" stroke-width="1.1" />
<line x1="292.80" y1="363.00" x2="465.00" y2="363.00" stroke="#111" stroke-width="1.1" />
<line x1="289.20" y1="363.00" x2="292.80" y2="363.00" stroke="#111" stroke-width="1.0" />
<text x="285.00" y="365.84" font-size="8.25" stroke="#000" stroke-width="0.12" textLength="3.60" lengthAdjust="spacingAndGlyphs">0</text>
<line x1="289.20" y1="325.40" x2="292.80" y2="325.40" stroke="#111" stroke-width="1.0" />
<text x="285.00" y="328.24" font-size="8.25" stroke="#000" stroke-width="0.12" textLength="3.60" lengthAdjust="spacingAndGlyphs">5</text>
<line x1="289.20" y1="287.80" x2="292.80" y2="287.80" stroke="#111" stroke-width="1.0" />
<text x="282.00" y="290.64" font-size="8.25" stroke="#000" stroke-width="0.12" textLength="6.60" lengthAdjust="spacingAndGlyphs">10</text>
<line x1="289.20" y1="250.20" x2="292.80" y2="250.20" stroke="#111" stroke-width="1.0" />
<text x="282.00" y="253.04" font-size="8.25" stroke="#000" stroke-width="0.12" textLength="6.60" lengthAdjust="spacingAndGlyphs">15</text>
<line x1="305.30" y1="363.00" x2="305.30" y2="367.00" stroke="#111" stroke-width="1.0" />
<text x="303.30" y="376.94" font-size="8.25" stroke="#000" stroke-width="0.12" textLength="4.00" lengthAdjust="spacingAndGlyphs">0</text>
<line x1="329.80" y1="363.00" x2="329.80" y2="367.00" stroke="#111" stroke-width="1.0" />
<text x="327.80" y="376.94" font-size="8.25" stroke="#000" stroke-width="0.12" textLength="4.00" lengthAdjust="spacingAndGlyphs">7</text>
<line x1="354.30" y1="363.00" x2="354.30" y2="367.00" stroke="#111" stroke-width="1.0" />
<text x="350.80" y="376.94" font-size="8.25" stroke="#000" stroke-width="0.12" textLength="7.00" lengthAdjust="spacingAndGlyphs">10</text>
<line x1="378.80" y1="363.00" x2="378.80" y2="367.00" stroke="#111" stroke-width="1.0" />
<text x="375.30" y="376.94" font-size="8.25" stroke="#000" stroke-width="0.12" textLength="7.00" lengthAdjust="spacingAndGlyphs">13</text>
<line x1="403.30" y1="363.00" x2="403.30" y2="367.00" stroke="#111" stroke-width="1.0" />
<text x="399.80" y="376.94" font-size="8.25" stroke="#000" stroke-width="0.12" textLength="7.00" lengthAdjust="spacingAndGlyphs">16</text>
<line x1="427.80" y1="363.00" x2="427.80" y2="367.00" stroke="#111" stroke-width="1.0" />
<text x="424.30" y="376.94" font-size="8.25" stroke="#000" stroke-width="0.12" textLength="7.00" lengthAdjust="spacingAndGlyphs">19</text>
<line x1="452.30" y1="363.00" x2="452.30" y2="367.00" stroke="#111" stroke-width="1.0" />
<text x="448.80" y="376.94" font-size="8.25" stroke="#000" stroke-width="0.12" textLength="7.00" lengthAdjust="spacingAndGlyphs">22</text>
<text x="344.40" y="387.84" font-size="8.25" stroke="#000" stroke-width="0.12" textLength="66.70" lengthAdjust="spacingAndGlyphs">Days after implantation</text>
<text x="277.52" y="335.60" font-size="9.35" stroke="#000" stroke-width="0.12" textLength="71.40" lengthAdjust="spacingAndGlyphs" transform="rotate(-90 277.52 335.60)">Tumor diameter (mm)</text>
<line x1="300.50" y1="250.00" x2="310.70" y2="250.00" stroke="#000" stroke-width="1.0" />
<circle cx="305.60" cy="250.00" r="2.20" fill="#000" stroke="none" stroke-width="1" />
<text x="313.00" y="252.84" font-size="8.25" stroke="#000" stroke-width="0.12" textLength="10.70" lengthAdjust="spacingAndGlyphs">Ctrl</text>
<line x1="300.50" y1="259.90" x2="310.70" y2="259.90" stroke="#ff1a1a" stroke-width="1.0" />
<circle cx="305.60" cy="259.90" r="2.20" fill="#ff1a1a" stroke="none" stroke-width="1" />
<text x="313.00" y="262.74" font-size="8.25" stroke="#000" stroke-width="0.12" textLength="39.70" lengthAdjust="spacingAndGlyphs">αVEGF+αPD1</text>
<line x1="300.50" y1="270.10" x2="310.70" y2="270.10" stroke="#1a1aff" stroke-width="1.0" />
<circle cx="305.60" cy="270.10" r="2.20" fill="#1a1aff" stroke="none" stroke-width="1" />
<text x="313.00" y="272.94" font-size="8.25" stroke="#000" stroke-width="0.12" textLength="57.10" lengthAdjust="spacingAndGlyphs">αVEGF+αPD1+αNK</text>
<line x1="300.50" y1="280.40" x2="310.70" y2="280.40" stroke="#ff1aff" stroke-width="1.0" />
<circle cx="305.60" cy="280.40" r="2.20" fill="#ff1aff" stroke="none" stroke-width="1" />
<text x="313.00" y="283.24" font-size="8.25" stroke="#000" stroke-width="0.12" textLength="60.30" lengthAdjust="spacingAndGlyphs">αVEGF+αPD1+αCD8</text>
<path d="M305.30 363.00 L329.80 343.70 L354.30 337.60 L378.80 340.80 L403.30 339.10 L427.80 347.60 L452.30 346.70" stroke="#ff1a1a" stroke-width="0.9" fill="none" />
<path d="M305.30 363.00 L329.80 341.70 L354.30 327.30 L378.80 322.40 L403.30 310.40 L427.80 288.90" stroke="#1a1aff" stroke-width="0.9" fill="none" />
<path d="M305.30 363.00 L329.80 342.30 L354.30 326.50 L378.80 315.60 L403.30 291.00" stroke="#000" stroke-width="0.9" fill="none" />
<path d="M305.30 363.00 L329.80 337.60 L354.30 323.80 L378.80 309.60 L403.30 282.30" stroke="#ff1aff" stroke-width="0.9" fill="none" />
<line x1="329.80" y1="341.50" x2="329.80" y2="346.00" stroke="#ff1a1a" stroke-width="0.8" />
<line x1="327.50" y1="341.50" x2="332.10" y2="341.50" stroke="#ff1a1a" stroke-width="0.8" />
<line x1="327.50" y1="346.00" x2="332.10" y2="346.00" stroke="#ff1a1a" stroke-width="0.8" />
<line x1="354.30" y1="335.50" x2="354.30" y2="339.80" stroke="#ff1a1a" stroke-width="0.8" />
<line x1="352.00" y1="335.50" x2="356.60" y2="335.50" stroke="#ff1a1a" stroke-width="0.8" />
<line x1="352.00" y1="339.80" x2="356.60" y2="339.80" stroke="#ff1a1a" stroke-width="0.8" />
<line x1="378.80" y1="338.50" x2="378.80" y2="343.00" stroke="#ff1a1a" stroke-width="0.8" />
<line x1="376.50" y1="338.50" x2="381.10" y2="338.50" stroke="#ff1a1a" stroke-width="0.8" />
<line x1="376.50" y1="343.00" x2="381.10" y2="343.00" stroke="#ff1a1a" stroke-width="0.8" />
<line x1="403.30" y1="335.50" x2="403.30" y2="342.20" stroke="#ff1a1a" stroke-width="0.8" />
<line x1="401.00" y1="335.50" x2="405.60" y2="335.50" stroke="#ff1a1a" stroke-width="0.8" />
<line x1="401.00" y1="342.20" x2="405.60" y2="342.20" stroke="#ff1a1a" stroke-width="0.8" />
<line x1="427.80" y1="340.40" x2="427.80" y2="354.20" stroke="#ff1a1a" stroke-width="0.8" />
<line x1="425.50" y1="340.40" x2="430.10" y2="340.40" stroke="#ff1a1a" stroke-width="0.8" />
<line x1="425.50" y1="354.20" x2="430.10" y2="354.20" stroke="#ff1a1a" stroke-width="0.8" />
<line x1="452.30" y1="339.10" x2="452.30" y2="354.20" stroke="#ff1a1a" stroke-width="0.8" />
<line x1="450.00" y1="339.10" x2="454.60" y2="339.10" stroke="#ff1a1a" stroke-width="0.8" />
<line x1="450.00" y1="354.20" x2="454.60" y2="354.20" stroke="#ff1a1a" stroke-width="0.8" />
<line x1="329.80" y1="339.50" x2="329.80" y2="344.00" stroke="#1a1aff" stroke-width="0.8" />
<line x1="327.50" y1="339.50" x2="332.10" y2="339.50" stroke="#1a1aff" stroke-width="0.8" />
<line x1="327.50" y1="344.00" x2="332.10" y2="344.00" stroke="#1a1aff" stroke-width="0.8" />
<line x1="354.30" y1="322.00" x2="354.30" y2="332.00" stroke="#1a1aff" stroke-width="0.8" />
<line x1="352.00" y1="322.00" x2="356.60" y2="322.00" stroke="#1a1aff" stroke-width="0.8" />
<line x1="352.00" y1="332.00" x2="356.60" y2="332.00" stroke="#1a1aff" stroke-width="0.8" />
<line x1="378.80" y1="319.50" x2="378.80" y2="325.50" stroke="#1a1aff" stroke-width="0.8" />
<line x1="376.50" y1="319.50" x2="381.10" y2="319.50" stroke="#1a1aff" stroke-width="0.8" />
<line x1="376.50" y1="325.50" x2="381.10" y2="325.50" stroke="#1a1aff" stroke-width="0.8" />
<line x1="403.30" y1="305.00" x2="403.30" y2="316.20" stroke="#1a1aff" stroke-width="0.8" />
<line x1="401.00" y1="305.00" x2="405.60" y2="305.00" stroke="#1a1aff" stroke-width="0.8" />
<line x1="401.00" y1="316.20" x2="405.60" y2="316.20" stroke="#1a1aff" stroke-width="0.8" />
<line x1="427.80" y1="283.20" x2="427.80" y2="294.10" stroke="#1a1aff" stroke-width="0.8" />
<line x1="425.50" y1="283.20" x2="430.10" y2="283.20" stroke="#1a1aff" stroke-width="0.8" />
<line x1="425.50" y1="294.10" x2="430.10" y2="294.10" stroke="#1a1aff" stroke-width="0.8" />
<line x1="329.80" y1="335.50" x2="329.80" y2="339.80" stroke="#ff1aff" stroke-width="0.8" />
<line x1="327.50" y1="335.50" x2="332.10" y2="335.50" stroke="#ff1aff" stroke-width="0.8" />
<line x1="327.50" y1="339.80" x2="332.10" y2="339.80" stroke="#ff1aff" stroke-width="0.8" />
<line x1="354.30" y1="318.00" x2="354.30" y2="329.00" stroke="#ff1aff" stroke-width="0.8" />
<line x1="352.00" y1="318.00" x2="356.60" y2="318.00" stroke="#ff1aff" stroke-width="0.8" />
<line x1="352.00" y1="329.00" x2="356.60" y2="329.00" stroke="#ff1aff" stroke-width="0.8" />
<line x1="378.80" y1="303.00" x2="378.80" y2="315.00" stroke="#ff1aff" stroke-width="0.8" />
<line x1="376.50" y1="303.00" x2="381.10" y2="303.00" stroke="#ff1aff" stroke-width="0.8" />
<line x1="376.50" y1="315.00" x2="381.10" y2="315.00" stroke="#ff1aff" stroke-width="0.8" />
<line x1="403.30" y1="271.50" x2="403.30" y2="293.00" stroke="#ff1aff" stroke-width="0.8" />
<line x1="401.00" y1="271.50" x2="405.60" y2="271.50" stroke="#ff1aff" stroke-width="0.8" />
<line x1="401.00" y1="293.00" x2="405.60" y2="293.00" stroke="#ff1aff" stroke-width="0.8" />
<line x1="329.80" y1="340.00" x2="329.80" y2="344.50" stroke="#000" stroke-width="0.8" />
<line x1="327.30" y1="340.00" x2="332.30" y2="340.00" stroke="#000" stroke-width="0.8" />
<line x1="327.30" y1="344.50" x2="332.30" y2="344.50" stroke="#000" stroke-width="0.8" />
<line x1="354.30" y1="320.00" x2="354.30" y2="333.00" stroke="#000" stroke-width="0.8" />
<line x1="351.80" y1="320.00" x2="356.80" y2="320.00" stroke="#000" stroke-width="0.8" />
<line x1="351.80" y1="333.00" x2="356.80" y2="333.00" stroke="#000" stroke-width="0.8" />
<line x1="378.80" y1="312.50" x2="378.80" y2="318.50" stroke="#000" stroke-width="0.8" />
<line x1="376.30" y1="312.50" x2="381.30" y2="312.50" stroke="#000" stroke-width="0.8" />
<line x1="376.30" y1="318.50" x2="381.30" y2="318.50" stroke="#000" stroke-width="0.8" />
<line x1="403.30" y1="277.80" x2="403.30" y2="303.80" stroke="#000" stroke-width="0.8" />
<line x1="400.80" y1="277.80" x2="405.80" y2="277.80" stroke="#000" stroke-width="0.8" />
<line x1="400.80" y1="303.80" x2="405.80" y2="303.80" stroke="#000" stroke-width="0.8" />
<circle cx="305.30" cy="363.00" r="2.10" fill="#ff1a1a" stroke="none" stroke-width="1" />
<circle cx="329.80" cy="343.70" r="2.10" fill="#ff1a1a" stroke="none" stroke-width="1" />
<circle cx="354.30" cy="337.60" r="2.10" fill="#ff1a1a" stroke="none" stroke-width="1" />
<circle cx="378.80" cy="340.80" r="2.10" fill="#ff1a1a" stroke="none" stroke-width="1" />
<circle cx="403.30" cy="339.10" r="2.10" fill="#ff1a1a" stroke="none" stroke-width="1" />
<circle cx="427.80" cy="347.60" r="2.10" fill="#ff1a1a" stroke="none" stroke-width="1" />
<circle cx="452.30" cy="346.70" r="2.10" fill="#ff1a1a" stroke="none" stroke-width="1" />
<circle cx="305.30" cy="363.00" r="2.10" fill="#1a1aff" stroke="none" stroke-width="1" />
<circle cx="329.80" cy="341.70" r="2.10" fill="#1a1aff" stroke="none" stroke-width="1" />
<circle cx="354.30" cy="327.30" r="2.10" fill="#1a1aff" stroke="none" stroke-width="1" />
<circle cx="378.80" cy="322.40" r="2.10" fill="#1a1aff" stroke="none" stroke-width="1" />
<circle cx="403.30" cy="310.40" r="2.10" fill="#1a1aff" stroke="none" stroke-width="1" />
<circle cx="427.80" cy="288.90" r="2.10" fill="#1a1aff" stroke="none" stroke-width="1" />
<circle cx="305.30" cy="363.00" r="2.10" fill="#ff1aff" stroke="none" stroke-width="1" />
<circle cx="329.80" cy="337.60" r="2.10" fill="#ff1aff" stroke="none" stroke-width="1" />
<circle cx="354.30" cy="323.80" r="2.10" fill="#ff1aff" stroke="none" stroke-width="1" />
<circle cx="378.80" cy="309.60" r="2.10" fill="#ff1aff" stroke="none" stroke-width="1" />
<circle cx="403.30" cy="282.30" r="2.10" fill="#ff1aff" stroke="none" stroke-width="1" />
<circle cx="305.30" cy="363.00" r="2.10" fill="#000" stroke="none" stroke-width="1" />
<circle cx="329.80" cy="342.30" r="2.10" fill="#000" stroke="none" stroke-width="1" />
<circle cx="354.30" cy="326.50" r="2.10" fill="#000" stroke="none" stroke-width="1" />
<circle cx="378.80" cy="315.60" r="2.10" fill="#000" stroke="none" stroke-width="1" />
<circle cx="403.30" cy="291.00" r="2.10" fill="#000" stroke="none" stroke-width="1" />
<path d="M403.2 268.0 L403.2 258.2 L453.5 258.2 L453.5 334.5" stroke="#ff1aff" stroke-width="1.0" fill="none" />
<path d="M429.40 253.10 L429.40 256.10 M430.70 253.85 L428.10 255.35 M430.70 255.35 L428.10 253.85 " stroke="#ff1aff" stroke-width="0.8" fill="none" />
<path d="M428.4 279.7 L428.4 270.5 L455.7 270.5 L455.7 334.5" stroke="#1a1aff" stroke-width="1.0" fill="none" />
<path d="M441.70 265.90 L441.70 268.90 M443.00 266.65 L440.40 268.15 M443.00 268.15 L440.40 266.65 " stroke="#1a1aff" stroke-width="0.8" fill="none" />
<text x="480.10" y="13.15" font-size="13.53" stroke="#000" stroke-width="0.12" textLength="9.30" lengthAdjust="spacingAndGlyphs" font-weight="bold">G</text>
<line x1="516.00" y1="3.80" x2="516.00" y2="77.30" stroke="#111" stroke-width="0.9" />
<line x1="516.00" y1="76.80" x2="632.00" y2="76.80" stroke="#111" stroke-width="0.9" />
<line x1="513.50" y1="76.80" x2="516.00" y2="76.80" stroke="#111" stroke-width="0.8" />
<text x="509.70" y="79.90" font-size="9.02" stroke="#000" stroke-width="0.12" textLength="3.90" lengthAdjust="spacingAndGlyphs">0</text>
<line x1="513.50" y1="68.76" x2="516.00" y2="68.76" stroke="#111" stroke-width="0.8" />
<text x="506.40" y="71.86" font-size="9.02" stroke="#000" stroke-width="0.12" textLength="7.20" lengthAdjust="spacingAndGlyphs">10</text>
<line x1="513.50" y1="60.71" x2="516.00" y2="60.71" stroke="#111" stroke-width="0.8" />
<text x="506.40" y="63.81" font-size="9.02" stroke="#000" stroke-width="0.12" textLength="7.20" lengthAdjust="spacingAndGlyphs">20</text>
<line x1="513.50" y1="52.67" x2="516.00" y2="52.67" stroke="#111" stroke-width="0.8" />
<text x="506.40" y="55.77" font-size="9.02" stroke="#000" stroke-width="0.12" textLength="7.20" lengthAdjust="spacingAndGlyphs">30</text>
<line x1="513.50" y1="44.62" x2="516.00" y2="44.62" stroke="#111" stroke-width="0.8" />
<text x="506.40" y="47.73" font-size="9.02" stroke="#000" stroke-width="0.12" textLength="7.20" lengthAdjust="spacingAndGlyphs">40</text>
<line x1="513.50" y1="36.58" x2="516.00" y2="36.58" stroke="#111" stroke-width="0.8" />
<text x="506.40" y="39.68" font-size="9.02" stroke="#000" stroke-width="0.12" textLength="7.20" lengthAdjust="spacingAndGlyphs">50</text>
<line x1="513.50" y1="28.54" x2="516.00" y2="28.54" stroke="#111" stroke-width="0.8" />
<text x="506.40" y="31.64" font-size="9.02" stroke="#000" stroke-width="0.12" textLength="7.20" lengthAdjust="spacingAndGlyphs">60</text>
<line x1="513.50" y1="20.49" x2="516.00" y2="20.49" stroke="#111" stroke-width="0.8" />
<text x="506.40" y="23.59" font-size="9.02" stroke="#000" stroke-width="0.12" textLength="7.20" lengthAdjust="spacingAndGlyphs">70</text>
<line x1="513.50" y1="12.45" x2="516.00" y2="12.45" stroke="#111" stroke-width="0.8" />
<text x="506.40" y="15.55" font-size="9.02" stroke="#000" stroke-width="0.12" textLength="7.20" lengthAdjust="spacingAndGlyphs">80</text>
<line x1="513.50" y1="4.40" x2="516.00" y2="4.40" stroke="#111" stroke-width="0.8" />
<text x="506.40" y="7.51" font-size="9.02" stroke="#000" stroke-width="0.12" textLength="7.20" lengthAdjust="spacingAndGlyphs">90</text>
<text x="500.12" y="64.60" font-size="9.35" stroke="#000" stroke-width="0.12" textLength="51.20" lengthAdjust="spacingAndGlyphs" transform="rotate(-90 500.12 64.60)">Cytotoxicity (%)</text>
<rect x="523.00" y="39.80" width="11.00" height="37.00" fill="#0a32ff" stroke="none" stroke-width="1" />
<line x1="528.50" y1="31.20" x2="528.50" y2="41.80" stroke="#555" stroke-width="0.8" />
<line x1="525.90" y1="31.20" x2="531.10" y2="31.20" stroke="#555" stroke-width="0.8" />
<circle cx="526.50" cy="46.50" r="0.90" fill="#fff" stroke="none" stroke-width="1" />
<circle cx="530.50" cy="46.50" r="0.90" fill="#fff" stroke="none" stroke-width="1" />
<rect x="534.30" y="15.90" width="10.50" height="60.90" fill="#ff2600" stroke="none" stroke-width="1" />
<line x1="539.55" y1="7.30" x2="539.55" y2="17.90" stroke="#f0d0c8" stroke-width="0.8" />
<line x1="536.95" y1="7.30" x2="542.15" y2="7.30" stroke="#f0d0c8" stroke-width="0.8" />
<circle cx="537.50" cy="23.50" r="0.90" fill="#fff" stroke="none" stroke-width="1" />
<circle cx="541.50" cy="23.00" r="0.90" fill="#fff" stroke="none" stroke-width="1" />
<rect x="550.40" y="45.90" width="10.50" height="30.90" fill="#0a32ff" stroke="none" stroke-width="1" />
<line x1="555.65" y1="41.50" x2="555.65" y2="47.90" stroke="#555" stroke-width="0.8" />
<line x1="553.05" y1="41.50" x2="558.25" y2="41.50" stroke="#555" stroke-width="0.8" />
<circle cx="555.20" cy="49.50" r="0.90" fill="#fff" stroke="none" stroke-width="1" />
<circle cx="555.20" cy="52.30" r="0.90" fill="#fff" stroke="none" stroke-width="1" />
<rect x="561.20" y="18.80" width="10.60" height="58.00" fill="#ff2600" stroke="none" stroke-width="1" />
<line x1="566.50" y1="11.00" x2="566.50" y2="20.80" stroke="#f0d0c8" stroke-width="0.8" />
<line x1="563.90" y1="11.00" x2="569.10" y2="11.00" stroke="#f0d0c8" stroke-width="0.8" />
<circle cx="563.80" cy="25.00" r="0.90" fill="#fff" stroke="none" stroke-width="1" />
<circle cx="568.30" cy="24.50" r="0.90" fill="#fff" stroke="none" stroke-width="1" />
<rect x="604.00" y="62.20" width="11.00" height="14.60" fill="#0a32ff" stroke="none" stroke-width="1" />
<line x1="609.50" y1="59.10" x2="609.50" y2="64.20" stroke="#555" stroke-width="0.8" />
<line x1="606.90" y1="59.10" x2="612.10" y2="59.10" stroke="#555" stroke-width="0.8" />
<circle cx="609.50" cy="66.00" r="0.90" fill="#fff" stroke="none" stroke-width="1" />
<rect x="615.30" y="33.50" width="11.00" height="43.30" fill="#ff2600" stroke="none" stroke-width="1" />
<line x1="620.80" y1="29.40" x2="620.80" y2="35.50" stroke="#f0d0c8" stroke-width="0.8" />
<line x1="618.20" y1="29.40" x2="623.40" y2="29.40" stroke="#f0d0c8" stroke-width="0.8" />
<circle cx="620.80" cy="39.00" r="0.90" fill="#fff" stroke="none" stroke-width="1" />
<path d="M539.40 1.40 L539.40 5.00 M540.96 2.30 L537.84 4.10 M540.96 4.10 L537.84 2.30 " stroke="#000" stroke-width="0.9" fill="none" />
<path d="M566.70 3.20 L566.70 6.80 M568.26 4.10 L565.14 5.90 M568.26 5.90 L565.14 4.10 " stroke="#000" stroke-width="0.9" fill="none" />
<path d="M620.40 21.40 L620.40 25.00 M621.96 22.30 L618.84 24.10 M621.96 24.10 L618.84 22.30 " stroke="#000" stroke-width="0.9" fill="none" />
<text x="527.20" y="84.90" font-size="8.25" stroke="#000" stroke-width="0.12" textLength="13.40" lengthAdjust="spacingAndGlyphs" font-style="italic">Nf2<tspan font-size="5" dy="-2.6">-/-</tspan></text>
<text x="551.50" y="85.14" font-size="8.25" stroke="#000" stroke-width="0.12" textLength="20.00" lengthAdjust="spacingAndGlyphs" font-style="italic">YAC-1</text>
<line x1="519.90" y1="86.60" x2="573.00" y2="86.60" stroke="#111" stroke-width="0.8" />
<text x="535.40" y="94.14" font-size="8.25" stroke="#000" stroke-width="0.12" textLength="23.30" lengthAdjust="spacingAndGlyphs">NK cells</text>
<text x="608.90" y="84.30" font-size="8.25" stroke="#000" stroke-width="0.12" textLength="11.50" lengthAdjust="spacingAndGlyphs" font-style="italic">Nf2<tspan font-size="5" dy="-2.6">-/-</tspan></text>
<line x1="606.40" y1="85.80" x2="622.80" y2="85.80" stroke="#111" stroke-width="0.8" />
<text x="598.60" y="93.90" font-size="8.25" stroke="#000" stroke-width="0.12" textLength="35.50" lengthAdjust="spacingAndGlyphs">CD8<tspan font-size="5" dy="-2.6">+</tspan><tspan dy="2.6"> T cells</tspan></text>
<rect x="642.90" y="35.50" width="5.00" height="5.10" fill="#0a32ff" stroke="none" stroke-width="1" />
<text x="651.30" y="41.44" font-size="8.25" stroke="#000" stroke-width="0.12" textLength="23.10" lengthAdjust="spacingAndGlyphs">Ctrl IgG</text>
<rect x="642.90" y="47.40" width="5.00" height="5.10" fill="#ff2600" stroke="none" stroke-width="1" />
<text x="651.30" y="53.14" font-size="8.25" stroke="#000" stroke-width="0.12" textLength="23.50" lengthAdjust="spacingAndGlyphs">αVEGF</text>
<text x="479.80" y="113.45" font-size="13.53" stroke="#000" stroke-width="0.12" textLength="8.30" lengthAdjust="spacingAndGlyphs" font-weight="bold">H</text>
<line x1="528.20" y1="102.50" x2="528.20" y2="161.70" stroke="#666" stroke-width="1.0" />
<line x1="528.20" y1="161.20" x2="627.20" y2="161.20" stroke="#444" stroke-width="1.0" />
<line x1="525.70" y1="161.20" x2="528.20" y2="161.20" stroke="#555" stroke-width="0.8" />
<text x="521.70" y="164.30" font-size="9.02" stroke="#000" stroke-width="0.12" textLength="3.80" lengthAdjust="spacingAndGlyphs">0</text>
<line x1="525.70" y1="151.60" x2="528.20" y2="151.60" stroke="#555" stroke-width="0.8" />
<text x="521.70" y="154.70" font-size="9.02" stroke="#000" stroke-width="0.12" textLength="3.80" lengthAdjust="spacingAndGlyphs">2</text>
<line x1="525.70" y1="142.00" x2="528.20" y2="142.00" stroke="#555" stroke-width="0.8" />
<text x="521.70" y="145.10" font-size="9.02" stroke="#000" stroke-width="0.12" textLength="3.80" lengthAdjust="spacingAndGlyphs">4</text>
<line x1="525.70" y1="132.40" x2="528.20" y2="132.40" stroke="#555" stroke-width="0.8" />
<text x="521.70" y="135.50" font-size="9.02" stroke="#000" stroke-width="0.12" textLength="3.80" lengthAdjust="spacingAndGlyphs">6</text>
<line x1="525.70" y1="122.80" x2="528.20" y2="122.80" stroke="#555" stroke-width="0.8" />
<text x="521.70" y="125.90" font-size="9.02" stroke="#000" stroke-width="0.12" textLength="3.80" lengthAdjust="spacingAndGlyphs">8</text>
<line x1="525.70" y1="113.20" x2="528.20" y2="113.20" stroke="#555" stroke-width="0.8" />
<text x="518.50" y="116.30" font-size="9.02" stroke="#000" stroke-width="0.12" textLength="7.00" lengthAdjust="spacingAndGlyphs">10</text>
<line x1="525.70" y1="103.60" x2="528.20" y2="103.60" stroke="#555" stroke-width="0.8" />
<text x="518.50" y="106.70" font-size="9.02" stroke="#000" stroke-width="0.12" textLength="7.00" lengthAdjust="spacingAndGlyphs">12</text>
<text x="515.02" y="159.60" font-size="9.35" stroke="#000" stroke-width="0.12" textLength="57.60" lengthAdjust="spacingAndGlyphs" transform="rotate(-90 515.02 159.60)">mRNA change (fold)</text>
<line x1="528.2" y1="151.3" x2="627" y2="151.3" stroke="#555" stroke-width="0.7" stroke-dasharray="2.2 1.6"/>
<rect x="533.10" y="157.20" width="7.70" height="4.00" fill="#0a32ff" stroke="none" stroke-width="1" />
<line x1="533.60" y1="156.00" x2="540.30" y2="156.00" stroke="#b8c0ff" stroke-width="0.8" stroke-dasharray="1 1"/>
<rect x="542.10" y="134.80" width="7.70" height="26.40" fill="#ff2600" stroke="none" stroke-width="1" />
<line x1="542.90" y1="136.40" x2="549.00" y2="136.40" stroke="#ffd8d0" stroke-width="1.1" stroke-dasharray="1.2 1"/>
<line x1="545.95" y1="131.20" x2="545.95" y2="134.80" stroke="#e8e0e0" stroke-width="0.8" />
<line x1="543.95" y1="131.20" x2="547.95" y2="131.20" stroke="#d0d0d0" stroke-width="0.8" />
<rect x="557.30" y="157.20" width="7.60" height="4.00" fill="#0a32ff" stroke="none" stroke-width="1" />
<line x1="557.80" y1="156.00" x2="564.40" y2="156.00" stroke="#b8c0ff" stroke-width="0.8" stroke-dasharray="1 1"/>
<rect x="566.70" y="113.80" width="7.70" height="47.40" fill="#ff2600" stroke="none" stroke-width="1" />
<line x1="567.50" y1="115.40" x2="573.60" y2="115.40" stroke="#ffd8d0" stroke-width="1.1" stroke-dasharray="1.2 1"/>
<line x1="570.55" y1="108.80" x2="570.55" y2="113.80" stroke="#e8e0e0" stroke-width="0.8" />
<line x1="568.55" y1="108.80" x2="572.55" y2="108.80" stroke="#d0d0d0" stroke-width="0.8" />
<rect x="582.00" y="157.20" width="7.70" height="4.00" fill="#0a32ff" stroke="none" stroke-width="1" />
<line x1="582.50" y1="156.00" x2="589.20" y2="156.00" stroke="#b8c0ff" stroke-width="0.8" stroke-dasharray="1 1"/>
<rect x="590.80" y="142.60" width="7.80" height="18.60" fill="#ff2600" stroke="none" stroke-width="1" />
<line x1="591.60" y1="144.20" x2="597.80" y2="144.20" stroke="#ffd8d0" stroke-width="1.1" stroke-dasharray="1.2 1"/>
<line x1="594.70" y1="140.00" x2="594.70" y2="142.60" stroke="#e8e0e0" stroke-width="0.8" />
<line x1="592.70" y1="140.00" x2="596.70" y2="140.00" stroke="#d0d0d0" stroke-width="0.8" />
<rect x="606.70" y="157.20" width="7.80" height="4.00" fill="#0a32ff" stroke="none" stroke-width="1" />
<line x1="607.20" y1="156.00" x2="614.00" y2="156.00" stroke="#b8c0ff" stroke-width="0.8" stroke-dasharray="1 1"/>
<rect x="615.90" y="154.30" width="7.80" height="6.90" fill="#ff2600" stroke="none" stroke-width="1" />
<line x1="616.70" y1="155.90" x2="622.90" y2="155.90" stroke="#ffd8d0" stroke-width="1.1" stroke-dasharray="1.2 1"/>
<line x1="619.80" y1="152.50" x2="619.80" y2="154.30" stroke="#e8e0e0" stroke-width="0.8" />
<line x1="617.80" y1="152.50" x2="621.80" y2="152.50" stroke="#d0d0d0" stroke-width="0.8" />
<path d="M546.20 124.00 L546.20 127.60 M547.76 124.90 L544.64 126.70 M547.76 126.70 L544.64 124.90 " stroke="#000" stroke-width="0.9" fill="none" />
<path d="M570.80 101.60 L570.80 105.20 M572.36 102.50 L569.24 104.30 M572.36 104.30 L569.24 102.50 " stroke="#000" stroke-width="0.9" fill="none" />
<path d="M594.70 132.20 L594.70 135.80 M596.26 133.10 L593.14 134.90 M596.26 134.90 L593.14 133.10 " stroke="#000" stroke-width="0.9" fill="none" />
<text x="533.40" y="170.04" font-size="8.25" stroke="#000" stroke-width="0.12" textLength="19.10" lengthAdjust="spacingAndGlyphs" font-style="italic">Nkg2d</text>
<text x="557.70" y="170.04" font-size="8.25" stroke="#000" stroke-width="0.12" textLength="18.60" lengthAdjust="spacingAndGlyphs" font-style="italic">Rae-1</text>
<text x="581.20" y="170.04" font-size="8.25" stroke="#000" stroke-width="0.12" textLength="15.50" lengthAdjust="spacingAndGlyphs" font-style="italic">H60a</text>
<text x="601.70" y="170.04" font-size="8.25" stroke="#000" stroke-width="0.12" textLength="19.20" lengthAdjust="spacingAndGlyphs" font-style="italic">Nkg2a</text>
<rect x="639.50" y="130.90" width="4.20" height="3.90" fill="#0a32ff" stroke="none" stroke-width="1" />
<text x="647.40" y="135.44" font-size="8.25" stroke="#000" stroke-width="0.12" textLength="23.10" lengthAdjust="spacingAndGlyphs">Ctrl IgG</text>
<rect x="639.50" y="142.60" width="4.20" height="3.90" fill="#ff2600" stroke="none" stroke-width="1" />
<text x="647.40" y="147.14" font-size="8.25" stroke="#000" stroke-width="0.12" textLength="24.20" lengthAdjust="spacingAndGlyphs">αVEGF</text>
<text x="484.10" y="188.95" font-size="13.53" stroke="#000" stroke-width="0.12" textLength="3.00" lengthAdjust="spacingAndGlyphs" font-weight="bold">I</text>
<rect x="490.30" y="182.50" width="192.40" height="51.90" fill="#fdfdfd" stroke="none" stroke-width="0" />
<path d="M490.30 234.40 L490.30 182.50 L682.70 182.50" stroke="#ececec" stroke-width="0.8" fill="none"/>
<defs><linearGradient id="gih" x1="0" x2="1" y1="0" y2="0"><stop offset="0" stop-color="#f6f6f6"/><stop offset="0.6" stop-color="#b4b4b4"/><stop offset="1" stop-color="#8e8e8e"/></linearGradient><linearGradient id="giv" x1="0" x2="0" y1="0" y2="1"><stop offset="0" stop-color="#f6f6f6"/><stop offset="0.6" stop-color="#b4b4b4"/><stop offset="1" stop-color="#8e8e8e"/></linearGradient></defs>
<path d="M680.60 182.50 L682.70 182.50 L682.70 234.40 L680.60 229.40 Z" fill="url(#gih)"/>
<path d="M490.30 229.40 L680.60 229.40 L682.70 234.40 L490.30 234.40 Z" fill="url(#giv)"/>
<rect x="682.70" y="182.50" width="2.30" height="51.90" fill="#e4e4e4" stroke="none" stroke-width="1" />
<g transform="translate(502.30 198.20) scale(1.36)"><path d="M-2.0,-3.6 L-5.4,-7.4 M2.0,-3.6 L5.4,-7.4 M-2.2,6.0 L-5.2,9.4 M2.2,6.0 L5.2,9.4 M0,7.2 L0,11.0" stroke="#d9b0a8" stroke-width="0.85" fill="none" stroke-linecap="round"/><ellipse cx="0" cy="1.6" rx="3.25" ry="6.0" fill="#e9e5e1" stroke="#c4b6ae" stroke-width="0.55"/><path d="M0,-10.6 C1.3,-9.8 2.7,-8.0 2.5,-6.2 C2.4,-4.6 1.4,-3.8 0,-3.8 C-1.4,-3.8 -2.4,-4.6 -2.5,-6.2 C-2.7,-8.0 -1.3,-9.8 0,-10.6 Z" fill="#ebe7e3" stroke="#c4b6ae" stroke-width="0.55"/><circle cx="-2.1" cy="-7.0" r="0.8" fill="#eab4ac"/><circle cx="2.1" cy="-7.0" r="0.8" fill="#eab4ac"/><circle cx="2.8" cy="4.2" r="1.05" fill="#4b42b5"/></g>
<text x="495.00" y="219.13" font-size="8.80" fill="#5a3cff" stroke="#5a3cff" stroke-width="0.12" textLength="28.80" lengthAdjust="spacingAndGlyphs">SN model</text>
<text x="513.90" y="194.73" font-size="8.80" fill="#ff1aff" stroke="#ff1aff" stroke-width="0.12" textLength="27.70" lengthAdjust="spacingAndGlyphs">αNKG2D</text>
<line x1="519.20" y1="207.90" x2="550.50" y2="207.90" stroke="#555" stroke-width="1.3" />
<line x1="519.20" y1="206.10" x2="519.20" y2="209.70" stroke="#111" stroke-width="1.0" />
<line x1="550.50" y1="207.90" x2="678.50" y2="207.90" stroke="#222" stroke-width="1.3" />
<path d="M676.2 205.10 L680.8 207.90 L676.2 210.70" stroke="#111" stroke-width="1.0" fill="none" />
<line x1="551.40" y1="205.10" x2="551.40" y2="210.70" stroke="#111" stroke-width="0.9" />
<line x1="556.10" y1="206.20" x2="556.10" y2="209.60" stroke="#111" stroke-width="0.8" />
<line x1="560.80" y1="206.20" x2="560.80" y2="209.60" stroke="#111" stroke-width="0.8" />
<line x1="565.50" y1="206.20" x2="565.50" y2="209.60" stroke="#111" stroke-width="0.8" />
<line x1="570.20" y1="206.20" x2="570.20" y2="209.60" stroke="#111" stroke-width="0.8" />
<line x1="574.90" y1="206.20" x2="574.90" y2="209.60" stroke="#111" stroke-width="0.8" />
<line x1="579.60" y1="206.20" x2="579.60" y2="209.60" stroke="#111" stroke-width="0.8" />
<line x1="584.30" y1="205.10" x2="584.30" y2="210.70" stroke="#111" stroke-width="0.9" />
<line x1="588.83" y1="206.20" x2="588.83" y2="209.60" stroke="#111" stroke-width="0.8" />
<line x1="593.36" y1="206.20" x2="593.36" y2="209.60" stroke="#111" stroke-width="0.8" />
<line x1="597.89" y1="206.20" x2="597.89" y2="209.60" stroke="#111" stroke-width="0.8" />
<line x1="602.41" y1="206.20" x2="602.41" y2="209.60" stroke="#111" stroke-width="0.8" />
<line x1="606.94" y1="206.20" x2="606.94" y2="209.60" stroke="#111" stroke-width="0.8" />
<line x1="611.47" y1="206.20" x2="611.47" y2="209.60" stroke="#111" stroke-width="0.8" />
<line x1="616.00" y1="205.10" x2="616.00" y2="210.70" stroke="#111" stroke-width="0.9" />
<line x1="620.44" y1="206.20" x2="620.44" y2="209.60" stroke="#111" stroke-width="0.8" />
<line x1="624.89" y1="206.20" x2="624.89" y2="209.60" stroke="#111" stroke-width="0.8" />
<line x1="629.33" y1="206.20" x2="629.33" y2="209.60" stroke="#111" stroke-width="0.8" />
<line x1="633.77" y1="206.20" x2="633.77" y2="209.60" stroke="#111" stroke-width="0.8" />
<line x1="638.21" y1="206.20" x2="638.21" y2="209.60" stroke="#111" stroke-width="0.8" />
<line x1="642.66" y1="206.20" x2="642.66" y2="209.60" stroke="#111" stroke-width="0.8" />
<line x1="647.10" y1="205.10" x2="647.10" y2="210.70" stroke="#111" stroke-width="0.9" />
<line x1="651.51" y1="206.20" x2="651.51" y2="209.60" stroke="#111" stroke-width="0.8" />
<line x1="655.93" y1="206.20" x2="655.93" y2="209.60" stroke="#111" stroke-width="0.8" />
<line x1="660.34" y1="206.20" x2="660.34" y2="209.60" stroke="#111" stroke-width="0.8" />
<line x1="664.76" y1="206.20" x2="664.76" y2="209.60" stroke="#111" stroke-width="0.8" />
<line x1="669.17" y1="206.20" x2="669.17" y2="209.60" stroke="#111" stroke-width="0.8" />
<line x1="673.59" y1="206.20" x2="673.59" y2="209.60" stroke="#111" stroke-width="0.8" />
<text x="549.35" y="218.64" font-size="8.25" stroke="#000" stroke-width="0.12" textLength="4.10" lengthAdjust="spacingAndGlyphs">0</text>
<text x="582.25" y="218.64" font-size="8.25" stroke="#000" stroke-width="0.12" textLength="4.10" lengthAdjust="spacingAndGlyphs">7</text>
<text x="612.50" y="218.64" font-size="8.25" stroke="#000" stroke-width="0.12" textLength="7.00" lengthAdjust="spacingAndGlyphs">14</text>
<text x="643.60" y="218.64" font-size="8.25" stroke="#000" stroke-width="0.12" textLength="7.00" lengthAdjust="spacingAndGlyphs">21</text>
<line x1="519.70" y1="194.70" x2="519.70" y2="199.80" stroke="#ff1aff" stroke-width="1.3" />
<path d="M517.60 199.50 L521.80 199.50 L519.70 202.50 Z" fill="#ff1aff"/>
<line x1="550.30" y1="194.70" x2="550.30" y2="199.80" stroke="#ff1aff" stroke-width="1.3" />
<path d="M548.20 199.50 L552.40 199.50 L550.30 202.50 Z" fill="#ff1aff"/>
<path d="M550.8 202.5 L550.8 199.7 L646.7 199.7 L646.7 202.5" stroke="#7a9ae0" stroke-width="0.9" fill="none" />
<text x="567.50" y="196.90" font-size="8.80" stroke="#000" stroke-width="0.12" textLength="56.20" lengthAdjust="spacingAndGlyphs"><tspan fill="#2020ff" stroke="#2020ff">αVEGF</tspan><tspan fill="#ff1a1a" stroke="#ff1a1a">+αPD1</tspan>/Ctrl</text>
<text x="535.50" y="225.34" font-size="8.25" stroke="#000" stroke-width="0.12" textLength="32.30" lengthAdjust="spacingAndGlyphs">Randomize</text>
<text x="591.40" y="228.64" font-size="8.25" stroke="#000" stroke-width="0.12" textLength="59.70" lengthAdjust="spacingAndGlyphs">Days after treatment</text>
<text x="485.60" y="254.05" font-size="13.53" stroke="#000" stroke-width="0.12" textLength="7.00" lengthAdjust="spacingAndGlyphs" font-weight="bold">J</text>
<line x1="523.90" y1="247.20" x2="533.60" y2="247.20" stroke="#000" stroke-width="1.0" />
<circle cx="528.90" cy="247.20" r="2.60" fill="#000" stroke="none" stroke-width="1" />
<text x="535.50" y="249.92" font-size="7.92" stroke="#000" stroke-width="0.12" textLength="9.80" lengthAdjust="spacingAndGlyphs">Ctrl</text>
<line x1="523.90" y1="254.80" x2="533.60" y2="254.80" stroke="#1a1aff" stroke-width="1.0" />
<rect x="526.10" y="252.00" width="5.60" height="5.60" fill="#fff" stroke="#1a1aff" stroke-width="1.0" />
<text x="535.50" y="257.52" font-size="7.92" stroke="#000" stroke-width="0.12" textLength="20.50" lengthAdjust="spacingAndGlyphs">αVEGF</text>
<line x1="523.9" y1="262.3" x2="533.6" y2="262.3" stroke="#1a1aff" stroke-width="1" stroke-dasharray="2 1.2"/>
<circle cx="528.90" cy="262.30" r="2.60" fill="#1a1aff" stroke="none" stroke-width="1" />
<text x="535.50" y="265.02" font-size="7.92" stroke="#000" stroke-width="0.12" textLength="49.30" lengthAdjust="spacingAndGlyphs">αVEGF+αNKG2D</text>
<line x1="592.60" y1="248.90" x2="602.30" y2="248.90" stroke="#ff1a1a" stroke-width="1.0" />
<rect x="594.60" y="246.10" width="5.60" height="5.60" fill="#fff" stroke="#ff1a1a" stroke-width="1.0" />
<text x="605.20" y="251.62" font-size="7.92" stroke="#000" stroke-width="0.12" textLength="39.90" lengthAdjust="spacingAndGlyphs">αVEGF+αPD1</text>
<line x1="592.6" y1="258.3" x2="602.3" y2="258.3" stroke="#ff1a1a" stroke-width="0.9" stroke-dasharray="0.9 1.1"/>
<circle cx="597.40" cy="258.30" r="2.70" fill="#ff1a1a" stroke="none" stroke-width="1" />
<text x="605.20" y="261.02" font-size="7.92" stroke="#000" stroke-width="0.12" textLength="68.20" lengthAdjust="spacingAndGlyphs">αVEGF+αPD1+αNKG2D</text>
<line x1="513.80" y1="275.00" x2="513.80" y2="368.90" stroke="#111" stroke-width="1.1" />
<line x1="513.80" y1="368.30" x2="660.40" y2="368.30" stroke="#111" stroke-width="1.1" />
<line x1="510.60" y1="368.30" x2="513.80" y2="368.30" stroke="#111" stroke-width="1.0" />
<text x="506.20" y="371.14" font-size="8.25" stroke="#000" stroke-width="0.12" textLength="3.80" lengthAdjust="spacingAndGlyphs">0</text>
<line x1="510.60" y1="337.34" x2="513.80" y2="337.34" stroke="#111" stroke-width="1.0" />
<text x="506.20" y="340.18" font-size="8.25" stroke="#000" stroke-width="0.12" textLength="3.80" lengthAdjust="spacingAndGlyphs">4</text>
<line x1="510.60" y1="306.38" x2="513.80" y2="306.38" stroke="#111" stroke-width="1.0" />
<text x="506.20" y="309.22" font-size="8.25" stroke="#000" stroke-width="0.12" textLength="3.80" lengthAdjust="spacingAndGlyphs">8</text>
<line x1="510.60" y1="275.42" x2="513.80" y2="275.42" stroke="#111" stroke-width="1.0" />
<text x="503.00" y="278.26" font-size="8.25" stroke="#000" stroke-width="0.12" textLength="7.00" lengthAdjust="spacingAndGlyphs">12</text>
<line x1="521.60" y1="368.30" x2="521.60" y2="371.90" stroke="#111" stroke-width="1.0" />
<text x="519.50" y="379.13" font-size="8.80" stroke="#000" stroke-width="0.12" textLength="4.20" lengthAdjust="spacingAndGlyphs">0</text>
<line x1="534.84" y1="368.30" x2="534.84" y2="371.90" stroke="#111" stroke-width="1.0" />
<text x="532.74" y="379.13" font-size="8.80" stroke="#000" stroke-width="0.12" textLength="4.20" lengthAdjust="spacingAndGlyphs">7</text>
<line x1="548.08" y1="368.30" x2="548.08" y2="371.90" stroke="#111" stroke-width="1.0" />
<text x="544.38" y="379.13" font-size="8.80" stroke="#000" stroke-width="0.12" textLength="7.40" lengthAdjust="spacingAndGlyphs">10</text>
<line x1="561.32" y1="368.30" x2="561.32" y2="371.90" stroke="#111" stroke-width="1.0" />
<text x="557.62" y="379.13" font-size="8.80" stroke="#000" stroke-width="0.12" textLength="7.40" lengthAdjust="spacingAndGlyphs">13</text>
<line x1="574.56" y1="368.30" x2="574.56" y2="371.90" stroke="#111" stroke-width="1.0" />
<text x="570.86" y="379.13" font-size="8.80" stroke="#000" stroke-width="0.12" textLength="7.40" lengthAdjust="spacingAndGlyphs">16</text>
<line x1="587.80" y1="368.30" x2="587.80" y2="371.90" stroke="#111" stroke-width="1.0" />
<text x="584.10" y="379.13" font-size="8.80" stroke="#000" stroke-width="0.12" textLength="7.40" lengthAdjust="spacingAndGlyphs">19</text>
<line x1="601.04" y1="368.30" x2="601.04" y2="371.90" stroke="#111" stroke-width="1.0" />
<text x="597.34" y="379.13" font-size="8.80" stroke="#000" stroke-width="0.12" textLength="7.40" lengthAdjust="spacingAndGlyphs">22</text>
<line x1="614.28" y1="368.30" x2="614.28" y2="371.90" stroke="#111" stroke-width="1.0" />
<text x="610.58" y="379.13" font-size="8.80" stroke="#000" stroke-width="0.12" textLength="7.40" lengthAdjust="spacingAndGlyphs">25</text>
<line x1="627.52" y1="368.30" x2="627.52" y2="371.90" stroke="#111" stroke-width="1.0" />
<text x="623.82" y="379.13" font-size="8.80" stroke="#000" stroke-width="0.12" textLength="7.40" lengthAdjust="spacingAndGlyphs">28</text>
<line x1="640.76" y1="368.30" x2="640.76" y2="371.90" stroke="#111" stroke-width="1.0" />
<text x="637.06" y="379.13" font-size="8.80" stroke="#000" stroke-width="0.12" textLength="7.40" lengthAdjust="spacingAndGlyphs">31</text>
<line x1="654.00" y1="368.30" x2="654.00" y2="371.90" stroke="#111" stroke-width="1.0" />
<text x="650.30" y="379.13" font-size="8.80" stroke="#000" stroke-width="0.12" textLength="7.40" lengthAdjust="spacingAndGlyphs">34</text>
<text x="559.30" y="388.32" font-size="7.92" stroke="#000" stroke-width="0.12" textLength="66.70" lengthAdjust="spacingAndGlyphs">Days after implantation</text>
<text x="501.32" y="361.00" font-size="9.35" stroke="#000" stroke-width="0.12" textLength="67.40" lengthAdjust="spacingAndGlyphs" transform="rotate(-90 501.32 361.00)">Tumor diameter (mm)</text>
<path d="M521.60 368.30 L534.84 349.90 L548.08 345.00 L561.32 344.20 L574.56 341.30 L587.80 347.20 L601.04 347.70 L614.28 342.70 L627.52 337.90 L640.76 333.60 L654.00 319.00" stroke="#ff1a1a" stroke-width="1.0" fill="none" />
<path d="M521.60 368.30 L534.84 343.40 L548.08 333.50 L561.32 328.00 L574.56 327.80 L587.80 329.00 L601.04 327.10 L614.28 325.30 L627.52 315.20 L640.76 304.50 L654.00 289.00" stroke="#ff1a1a" stroke-width="0.9" fill="none" stroke-dasharray="0.9 1.1"/>
<path d="M521.60 368.30 L534.84 351.30 L548.08 339.70 L561.32 328.00 L574.56 318.50 L587.80 309.50 L601.04 303.20 L614.28 287.00" stroke="#1a1aff" stroke-width="1.0" fill="none" />
<path d="M521.60 368.30 L534.84 350.00 L548.08 333.60 L561.32 310.40 L574.56 302.00 L587.80 292.40" stroke="#1a1aff" stroke-width="1.0" fill="none" stroke-dasharray="2.6 1.4"/>
<path d="M521.60 368.30 L534.84 349.60 L548.08 328.50 L561.32 299.60 L574.56 281.10" stroke="#000" stroke-width="1.0" fill="none" />
<line x1="587.80" y1="340.70" x2="587.80" y2="354.00" stroke="#ff1a1a" stroke-width="1.0" />
<line x1="585.50" y1="340.70" x2="590.10" y2="340.70" stroke="#ff1a1a" stroke-width="1.0" />
<line x1="585.50" y1="354.00" x2="590.10" y2="354.00" stroke="#ff1a1a" stroke-width="1.0" />
<line x1="601.04" y1="339.80" x2="601.04" y2="354.80" stroke="#ff1a1a" stroke-width="1.0" />
<line x1="598.74" y1="339.80" x2="603.34" y2="339.80" stroke="#ff1a1a" stroke-width="1.0" />
<line x1="598.74" y1="354.80" x2="603.34" y2="354.80" stroke="#ff1a1a" stroke-width="1.0" />
<line x1="614.28" y1="332.20" x2="614.28" y2="351.10" stroke="#ff1a1a" stroke-width="1.0" />
<line x1="611.98" y1="332.20" x2="616.58" y2="332.20" stroke="#ff1a1a" stroke-width="1.0" />
<line x1="611.98" y1="351.10" x2="616.58" y2="351.10" stroke="#ff1a1a" stroke-width="1.0" />
<line x1="627.52" y1="328.00" x2="627.52" y2="347.70" stroke="#ff1a1a" stroke-width="1.0" />
<line x1="625.22" y1="328.00" x2="629.82" y2="328.00" stroke="#ff1a1a" stroke-width="1.0" />
<line x1="625.22" y1="347.70" x2="629.82" y2="347.70" stroke="#ff1a1a" stroke-width="1.0" />
<line x1="640.76" y1="322.90" x2="640.76" y2="345.50" stroke="#ff1a1a" stroke-width="1.0" />
<line x1="638.46" y1="322.90" x2="643.06" y2="322.90" stroke="#ff1a1a" stroke-width="1.0" />
<line x1="638.46" y1="345.50" x2="643.06" y2="345.50" stroke="#ff1a1a" stroke-width="1.0" />
<line x1="654.00" y1="304.00" x2="654.00" y2="334.20" stroke="#ff1a1a" stroke-width="1.0" />
<line x1="651.70" y1="304.00" x2="656.30" y2="304.00" stroke="#ff1a1a" stroke-width="1.0" />
<line x1="651.70" y1="334.20" x2="656.30" y2="334.20" stroke="#ff1a1a" stroke-width="1.0" />
<line x1="574.56" y1="322.80" x2="574.56" y2="332.00" stroke="#ff1a1a" stroke-width="1.0" />
<line x1="572.26" y1="322.80" x2="576.86" y2="322.80" stroke="#ff1a1a" stroke-width="1.0" />
<line x1="572.26" y1="332.00" x2="576.86" y2="332.00" stroke="#ff1a1a" stroke-width="1.0" />
<line x1="587.80" y1="321.50" x2="587.80" y2="337.20" stroke="#ff1a1a" stroke-width="1.0" />
<line x1="585.50" y1="321.50" x2="590.10" y2="321.50" stroke="#ff1a1a" stroke-width="1.0" />
<line x1="585.50" y1="337.20" x2="590.10" y2="337.20" stroke="#ff1a1a" stroke-width="1.0" />
<line x1="601.04" y1="318.10" x2="601.04" y2="335.00" stroke="#ff1a1a" stroke-width="1.0" />
<line x1="598.74" y1="318.10" x2="603.34" y2="318.10" stroke="#ff1a1a" stroke-width="1.0" />
<line x1="598.74" y1="335.00" x2="603.34" y2="335.00" stroke="#ff1a1a" stroke-width="1.0" />
<line x1="614.28" y1="315.80" x2="614.28" y2="334.30" stroke="#ff1a1a" stroke-width="1.0" />
<line x1="611.98" y1="315.80" x2="616.58" y2="315.80" stroke="#ff1a1a" stroke-width="1.0" />
<line x1="611.98" y1="334.30" x2="616.58" y2="334.30" stroke="#ff1a1a" stroke-width="1.0" />
<line x1="627.52" y1="305.50" x2="627.52" y2="324.70" stroke="#ff1a1a" stroke-width="1.0" />
<line x1="625.22" y1="305.50" x2="629.82" y2="305.50" stroke="#ff1a1a" stroke-width="1.0" />
<line x1="625.22" y1="324.70" x2="629.82" y2="324.70" stroke="#ff1a1a" stroke-width="1.0" />
<line x1="640.76" y1="293.50" x2="640.76" y2="316.10" stroke="#ff1a1a" stroke-width="1.0" />
<line x1="638.46" y1="293.50" x2="643.06" y2="293.50" stroke="#ff1a1a" stroke-width="1.0" />
<line x1="638.46" y1="316.10" x2="643.06" y2="316.10" stroke="#ff1a1a" stroke-width="1.0" />
<line x1="654.00" y1="280.00" x2="654.00" y2="300.30" stroke="#ff1a1a" stroke-width="1.0" />
<line x1="651.70" y1="280.00" x2="656.30" y2="280.00" stroke="#ff1a1a" stroke-width="1.0" />
<line x1="651.70" y1="300.30" x2="656.30" y2="300.30" stroke="#ff1a1a" stroke-width="1.0" />
<line x1="561.32" y1="325.00" x2="561.32" y2="331.00" stroke="#1a1aff" stroke-width="1.0" />
<line x1="559.02" y1="325.00" x2="563.62" y2="325.00" stroke="#1a1aff" stroke-width="1.0" />
<line x1="559.02" y1="331.00" x2="563.62" y2="331.00" stroke="#1a1aff" stroke-width="1.0" />
<line x1="574.56" y1="311.60" x2="574.56" y2="324.70" stroke="#1a1aff" stroke-width="1.0" />
<line x1="572.26" y1="311.60" x2="576.86" y2="311.60" stroke="#1a1aff" stroke-width="1.0" />
<line x1="572.26" y1="324.70" x2="576.86" y2="324.70" stroke="#1a1aff" stroke-width="1.0" />
<line x1="587.80" y1="302.00" x2="587.80" y2="317.00" stroke="#1a1aff" stroke-width="1.0" />
<line x1="585.50" y1="302.00" x2="590.10" y2="302.00" stroke="#1a1aff" stroke-width="1.0" />
<line x1="585.50" y1="317.00" x2="590.10" y2="317.00" stroke="#1a1aff" stroke-width="1.0" />
<line x1="601.04" y1="294.20" x2="601.04" y2="312.20" stroke="#1a1aff" stroke-width="1.0" />
<line x1="598.74" y1="294.20" x2="603.34" y2="294.20" stroke="#1a1aff" stroke-width="1.0" />
<line x1="598.74" y1="312.20" x2="603.34" y2="312.20" stroke="#1a1aff" stroke-width="1.0" />
<line x1="614.28" y1="277.50" x2="614.28" y2="296.60" stroke="#1a1aff" stroke-width="1.0" />
<line x1="611.98" y1="277.50" x2="616.58" y2="277.50" stroke="#1a1aff" stroke-width="1.0" />
<line x1="611.98" y1="296.60" x2="616.58" y2="296.60" stroke="#1a1aff" stroke-width="1.0" />
<line x1="587.80" y1="288.00" x2="587.80" y2="297.00" stroke="#1a1aff" stroke-width="1.0" />
<line x1="585.50" y1="288.00" x2="590.10" y2="288.00" stroke="#1a1aff" stroke-width="1.0" />
<line x1="585.50" y1="297.00" x2="590.10" y2="297.00" stroke="#1a1aff" stroke-width="1.0" />
<line x1="548.08" y1="325.50" x2="548.08" y2="331.50" stroke="#000" stroke-width="1.0" />
<line x1="545.78" y1="325.50" x2="550.38" y2="325.50" stroke="#000" stroke-width="1.0" />
<line x1="545.78" y1="331.50" x2="550.38" y2="331.50" stroke="#000" stroke-width="1.0" />
<line x1="561.32" y1="296.50" x2="561.32" y2="302.80" stroke="#000" stroke-width="1.0" />
<line x1="559.02" y1="296.50" x2="563.62" y2="296.50" stroke="#000" stroke-width="1.0" />
<line x1="559.02" y1="302.80" x2="563.62" y2="302.80" stroke="#000" stroke-width="1.0" />
<line x1="574.56" y1="274.50" x2="574.56" y2="287.60" stroke="#000" stroke-width="1.0" />
<line x1="572.26" y1="274.50" x2="576.86" y2="274.50" stroke="#000" stroke-width="1.0" />
<line x1="572.26" y1="287.60" x2="576.86" y2="287.60" stroke="#000" stroke-width="1.0" />
<rect x="518.60" y="365.30" width="6.00" height="6.00" fill="#fff" stroke="#ff1a1a" stroke-width="1.1" />
<rect x="531.84" y="346.90" width="6.00" height="6.00" fill="#fff" stroke="#ff1a1a" stroke-width="1.1" />
<rect x="545.08" y="342.00" width="6.00" height="6.00" fill="#fff" stroke="#ff1a1a" stroke-width="1.1" />
<rect x="558.32" y="341.20" width="6.00" height="6.00" fill="#fff" stroke="#ff1a1a" stroke-width="1.1" />
<rect x="571.56" y="338.30" width="6.00" height="6.00" fill="#fff" stroke="#ff1a1a" stroke-width="1.1" />
<rect x="584.80" y="344.20" width="6.00" height="6.00" fill="#fff" stroke="#ff1a1a" stroke-width="1.1" />
<rect x="598.04" y="344.70" width="6.00" height="6.00" fill="#fff" stroke="#ff1a1a" stroke-width="1.1" />
<rect x="611.28" y="339.70" width="6.00" height="6.00" fill="#fff" stroke="#ff1a1a" stroke-width="1.1" />
<rect x="624.52" y="334.90" width="6.00" height="6.00" fill="#fff" stroke="#ff1a1a" stroke-width="1.1" />
<rect x="637.76" y="330.60" width="6.00" height="6.00" fill="#fff" stroke="#ff1a1a" stroke-width="1.1" />
<rect x="651.00" y="316.00" width="6.00" height="6.00" fill="#fff" stroke="#ff1a1a" stroke-width="1.1" />
<circle cx="521.60" cy="368.30" r="2.70" fill="#ff1a1a" stroke="none" stroke-width="1" />
<circle cx="534.84" cy="343.40" r="2.70" fill="#ff1a1a" stroke="none" stroke-width="1" />
<circle cx="548.08" cy="333.50" r="2.70" fill="#ff1a1a" stroke="none" stroke-width="1" />
<circle cx="561.32" cy="328.00" r="2.70" fill="#ff1a1a" stroke="none" stroke-width="1" />
<circle cx="574.56" cy="327.80" r="2.70" fill="#ff1a1a" stroke="none" stroke-width="1" />
<circle cx="587.80" cy="329.00" r="2.70" fill="#ff1a1a" stroke="none" stroke-width="1" />
<circle cx="601.04" cy="327.10" r="2.70" fill="#ff1a1a" stroke="none" stroke-width="1" />
<circle cx="614.28" cy="325.30" r="2.70" fill="#ff1a1a" stroke="none" stroke-width="1" />
<circle cx="627.52" cy="315.20" r="2.70" fill="#ff1a1a" stroke="none" stroke-width="1" />
<circle cx="640.76" cy="304.50" r="2.70" fill="#ff1a1a" stroke="none" stroke-width="1" />
<circle cx="654.00" cy="289.00" r="2.70" fill="#ff1a1a" stroke="none" stroke-width="1" />
<rect x="518.60" y="365.30" width="6.00" height="6.00" fill="#fff" stroke="#1a1aff" stroke-width="1.1" />
<rect x="531.84" y="348.30" width="6.00" height="6.00" fill="#fff" stroke="#1a1aff" stroke-width="1.1" />
<rect x="545.08" y="336.70" width="6.00" height="6.00" fill="#fff" stroke="#1a1aff" stroke-width="1.1" />
<rect x="558.32" y="325.00" width="6.00" height="6.00" fill="#fff" stroke="#1a1aff" stroke-width="1.1" />
<rect x="571.56" y="315.50" width="6.00" height="6.00" fill="#fff" stroke="#1a1aff" stroke-width="1.1" />
<rect x="584.80" y="306.50" width="6.00" height="6.00" fill="#fff" stroke="#1a1aff" stroke-width="1.1" />
<rect x="598.04" y="300.20" width="6.00" height="6.00" fill="#fff" stroke="#1a1aff" stroke-width="1.1" />
<rect x="611.28" y="284.00" width="6.00" height="6.00" fill="#fff" stroke="#1a1aff" stroke-width="1.1" />
<circle cx="521.60" cy="368.30" r="2.70" fill="#1a1aff" stroke="none" stroke-width="1" />
<circle cx="534.84" cy="350.00" r="2.70" fill="#1a1aff" stroke="none" stroke-width="1" />
<circle cx="548.08" cy="333.60" r="2.70" fill="#1a1aff" stroke="none" stroke-width="1" />
<circle cx="561.32" cy="310.40" r="2.70" fill="#1a1aff" stroke="none" stroke-width="1" />
<circle cx="574.56" cy="302.00" r="2.70" fill="#1a1aff" stroke="none" stroke-width="1" />
<circle cx="587.80" cy="292.40" r="2.70" fill="#1a1aff" stroke="none" stroke-width="1" />
<circle cx="521.60" cy="368.30" r="2.80" fill="#000" stroke="none" stroke-width="1" />
<circle cx="534.84" cy="349.60" r="2.80" fill="#000" stroke="none" stroke-width="1" />
<circle cx="548.08" cy="328.50" r="2.80" fill="#000" stroke="none" stroke-width="1" />
<circle cx="561.32" cy="299.60" r="2.80" fill="#000" stroke="none" stroke-width="1" />
<circle cx="574.56" cy="281.10" r="2.80" fill="#000" stroke="none" stroke-width="1" />
<line x1="589.40" y1="275.00" x2="614.50" y2="275.00" stroke="#1a1aff" stroke-width="1.0" />
<path d="M600.90 270.10 L600.90 273.50 M602.37 270.95 L599.43 272.65 M602.37 272.65 L599.43 270.95 " stroke="#1a1aff" stroke-width="0.9" fill="none" />
<line x1="661.90" y1="286.20" x2="661.90" y2="319.50" stroke="#ff1a1a" stroke-width="1.0" />
<path d="M664.90 300.20 L664.90 303.80 M666.46 301.10 L663.34 302.90 M666.46 302.90 L663.34 301.10 " stroke="#ff1a1a" stroke-width="0.9" fill="none" />
</svg>
</body></html>
